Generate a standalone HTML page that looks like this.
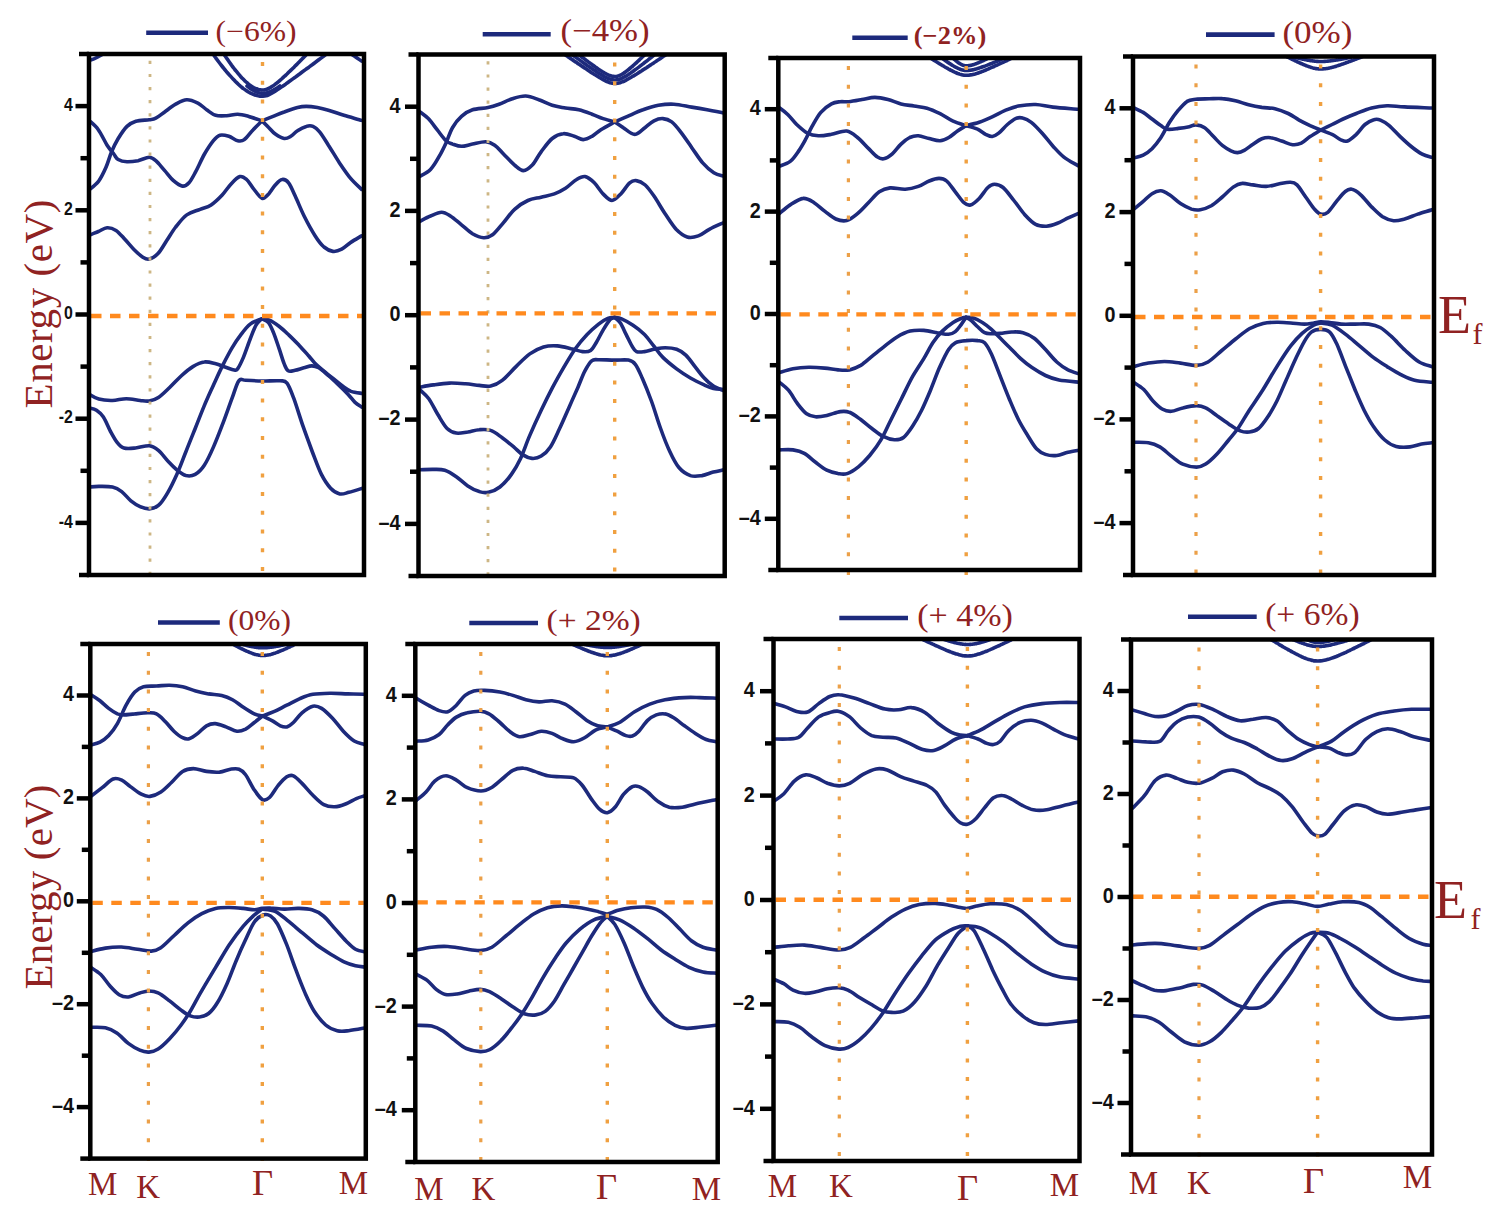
<!DOCTYPE html>
<html><head><meta charset="utf-8"><title>Band structures</title>
<style>
html,body{margin:0;padding:0;background:#fff;}
body{width:1500px;height:1220px;overflow:hidden;position:relative;}
svg{position:absolute;left:0;top:0;}
.tk{font-family:"Liberation Sans",sans-serif;font-weight:bold;font-size:18px;fill:#111;}
.lg{font-family:"Liberation Serif",serif;font-size:29px;fill:#902222;}
.sf{font-family:"Liberation Serif",serif;fill:#902222;}
</style></head><body>
<svg width="1500" height="1220" viewBox="0 0 1500 1220">
<defs>

<clipPath id="c1"><rect x="89.0" y="54.0" width="275.0" height="521.0"/></clipPath>
<clipPath id="c2"><rect x="418.5" y="54.5" width="306.2" height="521.5"/></clipPath>
<clipPath id="c3"><rect x="778.3" y="58.0" width="301.7" height="512.0"/></clipPath>
<clipPath id="c4"><rect x="1133.0" y="56.5" width="301.0" height="518.5"/></clipPath>
<clipPath id="c5"><rect x="90.3" y="644.0" width="275.5" height="514.6"/></clipPath>
<clipPath id="c6"><rect x="415.3" y="644.0" width="302.4" height="518.0"/></clipPath>
<clipPath id="c7"><rect x="773.5" y="639.0" width="306.0" height="522.0"/></clipPath>
<clipPath id="c8"><rect x="1131.0" y="639.5" width="301.0" height="515.0"/></clipPath>
</defs>
<g clip-path="url(#c1)" fill="none" stroke="#1d2a7c" stroke-width="3.6" stroke-linecap="round" stroke-linejoin="round">
<path d="M89.0,120.4 C90.5,121.9 95.3,125.5 98.3,129.7 C101.3,133.8 104.5,141.1 107.1,145.2 C109.7,149.2 111.9,151.6 113.8,154.0 C115.6,156.4 116.0,158.3 118.2,159.5 C120.4,160.8 123.7,161.6 127.0,161.8 C130.4,161.9 134.4,161.4 138.1,160.7 C141.8,159.9 146.2,157.3 149.2,157.3 C152.1,157.3 153.2,158.4 155.8,160.7 C158.4,162.9 161.7,167.3 164.7,170.6 C167.6,173.9 170.6,178.0 173.5,180.6 C176.5,183.2 179.8,185.7 182.4,186.1 C185.0,186.5 186.8,185.2 189.0,182.8 C191.2,180.4 193.1,176.5 195.7,171.7 C198.2,166.9 201.6,159.2 204.5,154.0 C207.5,148.9 210.8,143.9 213.4,140.7 C215.9,137.6 217.4,135.9 220.0,135.2 C222.6,134.5 225.9,135.4 228.9,136.3 C231.8,137.2 235.1,140.2 237.7,140.7 C240.3,141.3 241.8,141.5 244.3,139.6 C246.9,137.8 250.2,132.8 253.2,129.7 C256.1,126.5 260.6,122.3 262.0,120.8"/>
<path d="M89.0,189.9 C90.5,188.5 95.4,185.4 98.3,181.7 C101.1,177.9 103.8,172.3 106.0,167.3 C108.2,162.3 109.5,156.6 111.6,151.8 C113.6,147.0 115.6,142.8 118.2,138.5 C120.8,134.3 124.1,129.2 127.0,126.4 C130.0,123.5 132.2,122.4 135.9,121.3 C139.6,120.2 145.9,120.2 149.2,119.7 C152.5,119.2 153.2,119.5 155.8,118.2 C158.4,116.9 161.4,114.3 164.7,112.0 C168.0,109.6 172.0,106.2 175.7,104.2 C179.4,102.2 183.1,100.0 186.8,99.8 C190.5,99.6 194.5,101.5 197.9,103.1 C201.2,104.8 203.8,107.7 206.7,109.8 C209.7,111.8 212.3,114.3 215.6,115.3 C218.9,116.3 223.0,115.9 226.6,115.7 C230.3,115.5 234.0,114.1 237.7,114.2 C241.4,114.3 244.7,115.3 248.8,116.4 C252.8,117.5 259.8,120.1 262.0,120.8"/>
<path d="M262.0,120.8 C263.9,120.1 269.4,117.9 273.1,116.4 C276.8,114.9 280.1,113.4 284.2,112.0 C288.2,110.5 293.8,108.5 297.5,107.5 C301.1,106.6 303.0,106.4 306.3,106.4 C309.6,106.4 313.7,106.9 317.4,107.5 C321.1,108.2 324.0,108.9 328.4,110.2 C332.9,111.5 338.4,113.6 343.9,115.3 C349.5,117.0 358.7,119.5 361.6,120.4"/>
<path d="M262.0,120.8 C263.2,121.9 266.5,125.2 268.7,127.5 C270.9,129.7 272.7,132.3 275.3,134.1 C277.9,135.9 281.6,138.2 284.2,138.5 C286.8,138.9 288.6,137.6 290.8,136.3 C293.0,135.0 294.9,132.4 297.5,130.8 C300.0,129.1 303.7,127.1 306.3,126.4 C308.9,125.6 310.7,125.4 313.0,126.4 C315.2,127.3 317.0,128.8 319.6,131.9 C322.2,135.0 325.1,140.0 328.4,145.2 C331.8,150.3 335.8,157.3 339.5,162.9 C343.2,168.4 346.9,173.9 350.6,178.4 C354.3,182.8 359.8,187.6 361.6,189.4"/>
<path d="M89.0,235.5 C90.5,234.8 95.3,232.8 98.3,231.5 C101.3,230.2 104.2,227.9 107.1,227.7 C110.1,227.5 113.0,228.5 116.0,230.4 C118.9,232.3 121.9,236.1 124.8,239.2 C127.8,242.4 130.7,246.2 133.7,249.2 C136.6,252.1 140.0,255.3 142.5,256.9 C145.1,258.6 146.6,259.7 149.2,259.1 C151.8,258.6 155.1,256.7 158.0,253.6 C161.0,250.5 163.9,244.8 166.9,240.3 C169.8,235.9 172.4,231.3 175.7,227.0 C179.1,222.8 182.7,217.8 186.8,214.9 C190.9,211.9 196.0,211.0 200.1,209.3 C204.1,207.7 207.5,207.3 211.1,204.9 C214.8,202.5 218.9,198.5 222.2,195.0 C225.5,191.5 228.1,187.0 231.1,183.9 C234.0,180.8 237.3,177.3 239.9,176.6 C242.5,175.9 244.3,177.5 246.6,179.5 C248.8,181.4 250.6,185.2 253.2,188.3 C255.8,191.5 259.5,197.4 262.0,198.3 C264.6,199.2 266.5,196.1 268.7,193.9 C270.9,191.6 273.1,187.4 275.3,185.0 C277.5,182.6 279.8,179.8 282.0,179.5 C284.2,179.1 286.4,180.0 288.6,182.8 C290.8,185.6 292.7,190.5 295.2,196.1 C297.8,201.6 300.8,209.3 304.1,216.0 C307.4,222.6 311.8,230.7 315.2,235.9 C318.5,241.1 321.1,244.4 324.0,247.0 C327.0,249.5 329.9,251.0 332.9,251.4 C335.8,251.8 338.8,250.7 341.7,249.2 C344.7,247.7 347.3,244.8 350.6,242.5 C353.9,240.3 359.8,237.0 361.6,235.9"/>
<path d="M87.2,61.1 C88.3,60.7 91.6,59.8 93.9,58.9 C96.1,57.9 98.5,56.6 100.5,55.5 C102.5,54.4 105.1,52.8 106.0,52.2"/>
<path d="M348.4,52.2 C349.5,53.0 352.8,55.2 355.0,56.6 C357.2,58.1 360.5,60.3 361.6,61.1"/>
<path d="M89.1,394.1 C90.7,394.9 94.9,398.1 98.8,399.1 C102.7,400.2 108.0,400.6 112.5,400.5 C117.1,400.4 121.7,398.7 126.3,398.7 C130.9,398.7 136.3,400.1 140.1,400.5 C143.9,400.9 146.2,401.5 149.3,401.0 C152.3,400.5 155.0,399.8 158.4,397.5 C161.9,395.2 166.1,390.8 169.9,387.2 C173.7,383.6 177.6,379.2 181.4,375.7 C185.2,372.3 189.0,368.9 192.9,366.6 C196.7,364.3 200.5,362.4 204.3,362.0 C208.2,361.5 212.4,363.0 215.8,363.8 C219.3,364.6 221.9,366.0 225.0,367.0 C228.1,368.0 232.1,369.7 234.2,370.0 C236.3,370.3 236.1,371.0 237.6,368.9 C239.2,366.7 241.3,362.3 243.4,357.4 C245.5,352.4 248.1,344.4 250.2,339.0 C252.3,333.7 254.1,328.6 256.0,325.2 C257.9,321.9 260.8,319.9 261.7,318.8"/>
<path d="M89.1,487.0 C90.7,486.9 94.9,486.4 98.8,486.4 C102.7,486.4 108.7,486.2 112.5,487.0 C116.4,487.9 118.7,489.3 121.7,491.6 C124.8,493.9 127.8,498.3 130.9,500.8 C134.0,503.3 137.0,505.2 140.1,506.6 C143.1,507.9 146.2,509.0 149.3,508.9 C152.3,508.7 155.4,508.1 158.4,505.4 C161.5,502.7 164.6,498.0 167.6,492.8 C170.7,487.6 173.7,481.3 176.8,474.4 C179.9,467.5 182.9,459.1 186.0,451.5 C189.0,443.8 192.1,436.2 195.2,428.5 C198.2,420.9 201.3,412.8 204.3,405.6 C207.4,398.3 210.5,391.6 213.5,384.9 C216.6,378.2 219.6,371.5 222.7,365.4 C225.8,359.3 228.8,353.4 231.9,348.2 C234.9,343.0 238.0,338.4 241.1,334.4 C244.1,330.4 246.8,326.7 250.2,324.1 C253.7,321.5 259.8,319.7 261.7,318.8"/>
<path d="M89.1,407.9 C90.4,408.3 94.1,408.6 96.5,410.2 C98.8,411.7 101.1,413.6 103.4,417.0 C105.7,420.5 108.0,426.6 110.2,430.8 C112.5,435.0 114.8,439.4 117.1,442.3 C119.4,445.2 121.0,447.1 124.0,448.0 C127.1,449.0 131.3,448.4 135.5,448.0 C139.7,447.7 145.4,445.4 149.3,445.7 C153.1,446.1 155.4,447.8 158.4,450.3 C161.5,452.8 164.6,457.4 167.6,460.7 C170.7,463.9 173.7,467.3 176.8,469.8 C179.9,472.3 182.9,474.8 186.0,475.6 C189.0,476.3 192.1,476.1 195.2,474.4 C198.2,472.7 201.3,469.8 204.3,465.2 C207.4,460.7 210.5,453.8 213.5,446.9 C216.6,440.0 219.6,432.0 222.7,423.9 C225.8,415.9 229.2,405.9 231.9,398.7 C234.6,391.5 236.5,383.8 238.8,380.8 C241.1,377.7 241.8,380.3 245.7,380.3 C249.5,380.4 256.0,380.9 261.7,381.0 C267.5,381.1 275.9,380.4 280.1,380.8 C284.3,381.1 284.7,380.1 287.0,383.1 C289.3,386.1 291.2,391.5 293.9,398.7 C296.5,405.9 300.0,417.4 303.0,426.2 C306.1,435.0 309.2,443.4 312.2,451.5 C315.3,459.5 318.3,468.3 321.4,474.4 C324.5,480.5 327.5,484.9 330.6,488.2 C333.6,491.4 336.7,493.2 339.8,493.9 C342.8,494.6 345.1,493.3 348.9,492.3 C352.8,491.4 360.4,488.9 362.7,488.2"/>
<path d="M262.4,319.0 C263.6,319.2 266.7,318.9 269.5,320.2 C272.3,321.4 276.0,324.0 279.3,326.5 C282.6,329.0 285.9,332.3 289.2,335.4 C292.5,338.5 295.7,341.8 299.0,345.2 C302.3,348.6 306.2,353.1 308.8,356.0 C311.4,358.9 312.2,360.4 314.7,362.9 C317.2,365.4 320.5,368.2 323.6,370.8 C326.7,373.4 330.1,376.1 333.4,378.7 C336.7,381.3 340.2,384.4 343.2,386.5 C346.1,388.6 348.0,390.2 351.1,391.4 C354.2,392.5 360.2,393.1 362.0,393.4"/>
<path d="M262.4,319.0 C263.4,319.6 266.7,320.4 268.5,322.6 C270.3,324.8 271.6,328.0 273.4,332.4 C275.2,336.8 277.5,343.9 279.3,349.2 C281.1,354.4 282.7,360.3 284.2,363.9 C285.7,367.5 286.4,369.7 288.2,370.8 C290.0,371.9 292.5,370.8 295.1,370.3 C297.7,369.8 301.1,368.5 303.9,367.8 C306.7,367.1 309.3,365.9 311.8,365.9 C314.3,365.9 315.9,366.2 318.7,367.8 C321.5,369.4 325.2,372.9 328.5,375.7 C331.8,378.5 335.0,381.5 338.3,384.6 C341.6,387.7 345.4,391.4 348.2,394.4 C351.0,397.3 352.7,400.2 355.0,402.3 C357.3,404.4 360.8,406.4 362.0,407.2"/>
<path d="M196.9,30.7 C197.4,31.4 198.7,33.5 199.6,34.9 C200.5,36.2 201.5,37.6 202.4,38.9 C203.3,40.3 204.2,41.6 205.1,43.0 C206.0,44.3 206.9,45.6 207.9,46.9 C208.8,48.2 209.7,49.5 210.6,50.8 C211.5,52.1 212.4,53.4 213.3,54.6 C214.2,55.9 215.2,57.1 216.1,58.4 C217.0,59.6 217.9,60.8 218.8,62.0 C219.7,63.2 220.6,64.4 221.5,65.5 C222.5,66.7 223.4,67.8 224.3,69.0 C225.2,70.1 226.1,71.2 227.0,72.3 C227.9,73.3 228.8,74.4 229.8,75.4 C230.7,76.4 231.6,77.4 232.5,78.4 C233.4,79.4 234.3,80.3 235.2,81.3 C236.1,82.2 237.1,83.1 238.0,83.9 C238.9,84.8 239.8,85.6 240.7,86.4 C241.6,87.1 242.5,87.9 243.4,88.6 C244.4,89.3 245.3,89.9 246.2,90.5 C247.1,91.2 248.0,91.7 248.9,92.3 C249.8,92.8 250.7,93.3 251.7,93.7 C252.6,94.1 253.5,94.5 254.4,94.8 C255.3,95.1 256.2,95.4 257.1,95.6 C258.0,95.9 258.9,96.0 259.9,96.1 C260.8,96.2 261.6,96.4 262.6,96.3 C263.6,96.2 264.8,96.1 265.9,95.8 C267.0,95.5 268.1,95.0 269.2,94.5 C270.4,94.0 271.5,93.4 272.6,92.7 C273.7,92.1 274.8,91.4 275.9,90.7 C277.0,90.0 278.1,89.2 279.2,88.5 C280.3,87.7 281.4,87.0 282.6,86.2 C283.7,85.4 284.8,84.6 285.9,83.9 C287.0,83.1 288.1,82.3 289.2,81.5 C290.3,80.7 291.4,79.9 292.5,79.1 C293.6,78.3 294.7,77.5 295.9,76.7 C297.0,75.9 298.1,75.1 299.2,74.3 C300.3,73.4 301.4,72.6 302.5,71.8 C303.6,71.0 304.7,70.2 305.8,69.4 C306.9,68.6 308.0,67.7 309.2,66.9 C310.3,66.1 311.4,65.3 312.5,64.5 C313.6,63.6 314.7,62.8 315.8,62.0 C316.9,61.2 318.0,60.4 319.1,59.5 C320.2,58.7 321.3,57.9 322.4,57.1 C323.6,56.2 324.7,55.4 325.8,54.6 C326.9,53.8 328.0,53.0 329.1,52.1 C330.2,51.3 331.3,50.5 332.4,49.7 C333.5,48.8 334.6,48.0 335.8,47.2 C336.9,46.4 338.0,45.5 339.1,44.7 C340.2,43.9 341.8,42.6 342.4,42.2"/>
<path d="M209.3,31.2 C209.7,31.8 210.8,33.6 211.5,34.8 C212.3,36.0 213.0,37.2 213.8,38.4 C214.5,39.6 215.2,40.8 216.0,41.9 C216.7,43.1 217.5,44.3 218.2,45.4 C218.9,46.6 219.7,47.7 220.4,48.9 C221.2,50.0 221.9,51.2 222.6,52.3 C223.4,53.4 224.1,54.5 224.9,55.6 C225.6,56.7 226.3,57.8 227.1,58.8 C227.8,59.9 228.6,61.0 229.3,62.0 C230.0,63.0 230.8,64.1 231.5,65.1 C232.3,66.1 233.0,67.1 233.7,68.0 C234.5,69.0 235.2,70.0 236.0,70.9 C236.7,71.8 237.4,72.7 238.2,73.6 C238.9,74.5 239.7,75.3 240.4,76.2 C241.1,77.0 241.9,77.8 242.6,78.6 C243.4,79.4 244.1,80.1 244.8,80.8 C245.6,81.5 246.3,82.2 247.1,82.8 C247.8,83.5 248.5,84.1 249.3,84.7 C250.0,85.2 250.8,85.8 251.5,86.2 C252.2,86.7 253.0,87.2 253.7,87.6 C254.5,88.0 255.2,88.3 255.9,88.6 C256.7,88.9 257.4,89.2 258.2,89.4 C258.9,89.6 259.6,89.7 260.4,89.8 C261.1,89.9 261.8,90.0 262.6,90.0 C263.4,90.0 264.2,89.9 265.0,89.7 C265.9,89.6 266.7,89.3 267.5,89.0 C268.3,88.7 269.1,88.3 269.9,87.8 C270.7,87.4 271.5,86.9 272.4,86.3 C273.2,85.8 274.0,85.2 274.8,84.6 C275.6,84.0 276.4,83.3 277.2,82.7 C278.1,82.0 278.9,81.3 279.7,80.6 C280.5,79.9 281.3,79.2 282.1,78.5 C282.9,77.7 283.7,77.0 284.6,76.2 C285.4,75.5 286.2,74.7 287.0,74.0 C287.8,73.2 288.6,72.4 289.4,71.6 C290.3,70.8 291.1,70.1 291.9,69.3 C292.7,68.5 293.5,67.7 294.3,66.9 C295.1,66.1 295.9,65.2 296.8,64.4 C297.6,63.6 298.4,62.8 299.2,62.0 C300.0,61.2 300.8,60.4 301.6,59.5 C302.5,58.7 303.3,57.9 304.1,57.1 C304.9,56.3 305.7,55.4 306.5,54.6 C307.3,53.8 308.1,52.9 309.0,52.1 C309.8,51.3 310.6,50.4 311.4,49.6 C312.2,48.8 313.0,47.9 313.8,47.1 C314.7,46.3 315.5,45.4 316.3,44.6 C317.1,43.8 317.9,42.9 318.7,42.1 C319.5,41.2 320.8,40.0 321.2,39.6"/>
<path d="M247.0,86.0 C247.1,86.1 247.4,86.3 247.7,86.5 C247.9,86.7 248.1,86.9 248.3,87.0 C248.5,87.2 248.7,87.4 248.9,87.5 C249.2,87.7 249.4,87.8 249.6,88.0 C249.8,88.2 250.0,88.3 250.2,88.5 C250.5,88.6 250.7,88.8 250.9,88.9 C251.1,89.1 251.3,89.2 251.6,89.3 C251.8,89.5 252.0,89.6 252.2,89.7 C252.4,89.9 252.6,90.0 252.9,90.1 C253.1,90.3 253.3,90.4 253.5,90.5 C253.7,90.6 253.9,90.8 254.2,90.9 C254.4,91.0 254.6,91.1 254.8,91.2 C255.0,91.3 255.2,91.4 255.5,91.5 C255.7,91.6 255.9,91.7 256.1,91.8 C256.3,91.9 256.5,92.0 256.8,92.1 C257.0,92.1 257.2,92.2 257.4,92.3 C257.6,92.4 257.8,92.4 258.1,92.5 C258.3,92.6 258.5,92.6 258.7,92.7 C258.9,92.7 259.1,92.8 259.4,92.8 C259.6,92.9 259.8,92.9 260.0,93.0 C260.2,93.0 260.4,93.0 260.7,93.1 C260.9,93.1 261.1,93.1 261.3,93.1 C261.5,93.2 261.7,93.2 262.0,93.2 C262.2,93.2 262.4,93.2 262.6,93.2 C262.8,93.2 263.1,93.2 263.3,93.2 C263.6,93.2 263.8,93.2 264.1,93.1 C264.3,93.1 264.5,93.1 264.8,93.1 C265.0,93.0 265.3,93.0 265.5,93.0 C265.7,92.9 266.0,92.9 266.2,92.8 C266.5,92.8 266.7,92.7 267.0,92.7 C267.2,92.6 267.4,92.5 267.7,92.5 C267.9,92.4 268.2,92.3 268.4,92.3 C268.6,92.2 268.9,92.1 269.1,92.0 C269.4,91.9 269.6,91.9 269.9,91.8 C270.1,91.7 270.3,91.6 270.6,91.5 C270.8,91.4 271.1,91.3 271.3,91.2 C271.5,91.1 271.8,90.9 272.0,90.8 C272.3,90.7 272.5,90.6 272.8,90.5 C273.0,90.4 273.2,90.2 273.5,90.1 C273.7,90.0 274.0,89.8 274.2,89.7 C274.4,89.6 274.7,89.4 274.9,89.3 C275.2,89.2 275.4,89.0 275.6,88.9 C275.9,88.7 276.1,88.6 276.4,88.4 C276.6,88.3 276.9,88.1 277.1,88.0 C277.3,87.8 277.6,87.7 277.8,87.5 C278.1,87.3 278.3,87.2 278.6,87.0 C278.8,86.8 279.0,86.7 279.3,86.5 C279.5,86.3 279.9,86.1 280.0,86.0"/>
</g>
<line x1="150.0" y1="60.8" x2="150.0" y2="575.0" stroke="#cdb684" stroke-width="2.8" stroke-dasharray="3.2 9.9"/>
<line x1="262.5" y1="62.0" x2="262.5" y2="581.0" stroke="#f0a040" stroke-width="3.4" stroke-dasharray="4 14.7"/>
<line x1="91.0" y1="316.0" x2="362.0" y2="316.0" stroke="#ff8a1e" stroke-width="4.4" stroke-dasharray="10.5 8.5"/>
<rect x="89.0" y="54.0" width="275.0" height="521.0" fill="none" stroke="#000" stroke-width="4.5"/>
<line x1="79.0" y1="54.0" x2="89.0" y2="54.0" stroke="#000" stroke-width="4.5"/>
<line x1="79.0" y1="575.0" x2="89.0" y2="575.0" stroke="#000" stroke-width="4.5"/>
<line x1="75.5" y1="106.1" x2="89.0" y2="106.1" stroke="#000" stroke-width="4.5"/>
<text class="tk" transform="translate(72.8,110.7) scale(0.86,1)" text-anchor="end" style="font-size:18.5px">4</text>
<line x1="75.5" y1="210.3" x2="89.0" y2="210.3" stroke="#000" stroke-width="4.5"/>
<text class="tk" transform="translate(72.8,214.9) scale(0.86,1)" text-anchor="end" style="font-size:18.5px">2</text>
<line x1="75.5" y1="314.5" x2="89.0" y2="314.5" stroke="#000" stroke-width="4.5"/>
<text class="tk" transform="translate(72.8,319.1) scale(0.86,1)" text-anchor="end" style="font-size:18.5px">0</text>
<line x1="75.5" y1="418.7" x2="89.0" y2="418.7" stroke="#000" stroke-width="4.5"/>
<text class="tk" transform="translate(72.8,423.3) scale(0.86,1)" text-anchor="end" style="font-size:18.5px">-2</text>
<line x1="75.5" y1="522.9" x2="89.0" y2="522.9" stroke="#000" stroke-width="4.5"/>
<text class="tk" transform="translate(72.8,527.5) scale(0.86,1)" text-anchor="end" style="font-size:18.5px">-4</text>
<line x1="80.5" y1="158.2" x2="89.0" y2="158.2" stroke="#000" stroke-width="4.5"/>
<line x1="80.5" y1="262.4" x2="89.0" y2="262.4" stroke="#000" stroke-width="4.5"/>
<line x1="80.5" y1="366.6" x2="89.0" y2="366.6" stroke="#000" stroke-width="4.5"/>
<line x1="80.5" y1="470.8" x2="89.0" y2="470.8" stroke="#000" stroke-width="4.5"/>
<g clip-path="url(#c2)" fill="none" stroke="#1d2a7c" stroke-width="3.6" stroke-linecap="round" stroke-linejoin="round">
<path d="M419.4,111.5 C420.9,112.7 425.3,115.6 428.3,118.6 C431.2,121.6 434.2,126.0 437.1,129.7 C440.1,133.4 443.4,138.3 446.0,140.7 C448.6,143.1 450.0,143.1 452.6,144.1 C455.2,145.0 458.2,146.3 461.5,146.3 C464.8,146.3 468.5,144.8 472.5,144.1 C476.6,143.3 482.1,141.7 485.8,141.8 C489.5,142.0 491.7,143.1 494.7,145.2 C497.6,147.2 500.2,150.7 503.5,154.0 C506.8,157.3 511.3,162.3 514.6,165.1 C517.9,167.8 520.5,170.6 523.4,170.6 C526.4,170.6 529.3,168.2 532.3,165.1 C535.2,161.9 537.8,156.2 541.1,151.8 C544.5,147.4 548.5,141.5 552.2,138.5 C555.9,135.5 559.6,134.0 563.3,133.7 C567.0,133.3 571.0,135.3 574.3,136.3 C577.7,137.3 580.2,139.6 583.2,139.6 C586.1,139.6 589.1,138.0 592.0,136.3 C595.0,134.7 597.1,132.1 600.9,129.7 C604.7,127.3 612.5,123.2 614.8,121.9"/>
<path d="M419.4,176.6 C421.3,175.4 427.2,172.9 430.5,169.5 C433.8,166.1 436.8,160.7 439.3,156.2 C441.9,151.8 443.8,147.7 446.0,143.0 C448.2,138.2 450.0,131.9 452.6,127.5 C455.2,123.0 458.2,119.3 461.5,116.4 C464.8,113.4 468.1,111.2 472.5,109.8 C477.0,108.3 483.6,108.5 488.0,107.5 C492.5,106.6 495.0,105.7 499.1,104.2 C503.2,102.7 508.0,100.1 512.4,98.7 C516.8,97.3 521.2,95.8 525.7,96.0 C530.1,96.2 534.5,98.2 538.9,99.8 C543.4,101.3 547.8,104.0 552.2,105.3 C556.6,106.7 561.1,107.2 565.5,108.0 C569.9,108.7 574.3,108.7 578.8,109.8 C583.2,110.8 588.0,112.7 592.0,114.2 C596.1,115.7 599.3,117.3 603.1,118.6 C606.9,119.9 612.9,121.4 614.8,121.9"/>
<path d="M614.8,121.9 C616.9,121.0 622.8,118.4 627.5,116.4 C632.1,114.4 637.8,111.6 643.0,109.8 C648.1,107.9 653.3,106.2 658.4,105.3 C663.6,104.4 668.4,103.9 673.9,104.2 C679.5,104.5 686.1,106.2 691.6,107.1 C697.2,108.0 701.8,108.8 707.1,109.8 C712.5,110.8 721.0,112.5 723.7,113.1"/>
<path d="M614.8,121.9 C616.2,122.8 620.4,125.6 623.0,127.5 C625.7,129.3 628.6,131.9 630.8,133.0 C633.0,134.1 633.9,135.0 636.3,134.1 C638.7,133.2 642.2,129.7 645.2,127.5 C648.1,125.2 651.1,122.3 654.0,120.8 C657.0,119.3 659.9,118.4 662.9,118.6 C665.8,118.8 668.8,119.7 671.7,121.9 C674.7,124.1 677.3,127.6 680.6,131.9 C683.9,136.1 688.0,142.2 691.6,147.4 C695.3,152.5 699.0,158.6 702.7,162.9 C706.4,167.1 710.3,170.6 713.8,172.8 C717.3,175.0 722.1,175.6 723.7,176.1"/>
<path d="M419.4,221.5 C421.3,220.6 426.8,217.5 430.5,216.0 C434.2,214.4 438.2,212.2 441.6,212.2 C444.9,212.2 447.1,213.9 450.4,216.0 C453.7,218.1 457.8,221.9 461.5,224.8 C465.2,227.8 468.9,231.5 472.5,233.7 C476.2,235.8 480.3,237.5 483.6,237.7 C486.9,237.9 489.1,237.3 492.5,234.8 C495.8,232.3 499.8,226.9 503.5,222.6 C507.2,218.4 510.5,213.0 514.6,209.3 C518.6,205.7 523.4,202.5 527.9,200.5 C532.3,198.5 536.7,198.3 541.1,197.2 C545.6,196.1 550.4,195.3 554.4,193.9 C558.5,192.4 561.8,190.7 565.5,188.3 C569.2,185.9 573.2,181.4 576.6,179.5 C579.9,177.5 582.5,176.0 585.4,176.6 C588.4,177.1 591.3,179.9 594.3,182.8 C597.2,185.7 600.2,190.9 603.1,193.9 C606.1,196.8 609.0,200.5 612.0,200.5 C614.9,200.5 617.9,196.8 620.8,193.9 C623.8,190.9 627.1,185.0 629.7,182.8 C632.3,180.6 633.7,180.2 636.3,180.6 C638.9,180.9 642.2,182.4 645.2,185.0 C648.1,187.6 650.7,191.3 654.0,196.1 C657.3,200.9 661.4,208.2 665.1,213.8 C668.8,219.3 672.5,225.4 676.1,229.3 C679.8,233.1 683.5,235.9 687.2,237.0 C690.9,238.1 694.6,237.2 698.3,235.9 C702.0,234.6 705.1,231.5 709.3,229.3 C713.6,227.0 721.3,223.7 723.7,222.6"/>
<path d="M419.6,387.2 C421.9,386.8 428.4,385.6 433.4,384.9 C438.3,384.2 444.1,383.3 449.4,383.1 C454.8,382.9 460.5,383.4 465.5,383.8 C470.5,384.2 475.1,385.0 479.3,385.4 C483.5,385.8 486.9,386.9 490.7,386.1 C494.6,385.2 498.0,383.6 502.2,380.3 C506.4,377.1 511.4,371.0 516.0,366.6 C520.6,362.2 525.2,357.2 529.8,353.9 C534.3,350.7 538.9,348.4 543.5,347.0 C548.1,345.7 552.7,345.6 557.3,345.9 C561.9,346.2 566.9,347.7 571.1,348.7 C575.3,349.6 579.3,351.3 582.5,351.6 C585.8,351.9 588.3,352.0 590.6,350.5 C592.9,349.0 594.2,345.9 596.3,342.5 C598.4,339.0 600.9,333.7 603.2,329.8 C605.5,326.0 608.2,321.6 610.1,319.5 C612.0,317.4 613.9,317.8 614.7,317.4"/>
<path d="M419.6,469.8 C421.9,469.8 429.2,469.3 433.4,469.4 C437.6,469.5 441.0,469.1 444.8,470.3 C448.7,471.5 452.5,474.1 456.3,476.7 C460.1,479.3 464.0,483.4 467.8,485.9 C471.6,488.4 475.8,490.6 479.3,491.6 C482.7,492.7 485.0,493.1 488.4,492.3 C491.9,491.6 496.1,490.0 499.9,487.0 C503.7,484.1 508.0,479.2 511.4,474.4 C514.8,469.6 517.5,464.9 520.6,458.4 C523.6,451.9 526.3,443.4 529.8,435.4 C533.2,427.4 537.4,418.2 541.2,410.2 C545.1,402.1 548.9,394.5 552.7,387.2 C556.5,379.9 560.4,373.1 564.2,366.6 C568.0,360.1 571.8,353.6 575.7,348.2 C579.5,342.8 583.3,338.4 587.1,334.4 C591.0,330.4 595.2,326.8 598.6,324.1 C602.0,321.4 605.1,319.5 607.8,318.4 C610.5,317.3 613.5,317.6 614.7,317.4"/>
<path d="M419.6,389.5 C421.1,391.0 425.7,394.5 428.8,398.7 C431.8,402.9 434.9,409.8 438.0,414.8 C441.0,419.7 444.1,425.5 447.1,428.5 C450.2,431.6 452.9,432.5 456.3,433.1 C459.8,433.7 464.0,432.5 467.8,432.0 C471.6,431.4 475.4,429.9 479.3,429.7 C483.1,429.4 486.9,429.0 490.7,430.4 C494.6,431.7 498.4,435.0 502.2,437.7 C506.0,440.5 510.2,444.0 513.7,446.9 C517.1,449.8 519.8,453.0 522.9,454.9 C525.9,456.8 529.0,458.2 532.0,458.4 C535.1,458.6 538.2,458.0 541.2,456.1 C544.3,454.2 547.3,451.5 550.4,446.9 C553.5,442.3 556.5,435.0 559.6,428.5 C562.7,422.0 565.7,414.8 568.8,407.9 C571.8,401.0 575.3,393.3 578.0,387.2 C580.6,381.1 582.5,375.5 584.8,371.1 C587.1,366.7 589.4,362.7 591.7,360.8 C594.0,358.9 594.8,359.8 598.6,359.7 C602.4,359.6 609.7,360.1 614.7,360.1 C619.6,360.2 625.0,359.4 628.4,360.1 C631.9,360.8 633.0,361.3 635.3,364.3 C637.6,367.2 639.5,371.9 642.2,378.0 C644.9,384.2 648.3,392.6 651.4,401.0 C654.5,409.4 657.5,420.1 660.6,428.5 C663.6,436.9 666.7,445.0 669.8,451.5 C672.8,458.0 675.5,463.5 678.9,467.5 C682.4,471.6 686.6,474.2 690.4,475.6 C694.2,476.9 698.1,476.1 701.9,475.6 C705.7,475.0 709.7,473.1 713.4,472.1 C717.0,471.2 722.0,470.2 723.7,469.8"/>
<path d="M614.7,317.4 C615.8,317.7 618.5,317.5 621.6,318.8 C624.6,320.1 629.2,322.6 633.0,325.2 C636.9,327.8 641.1,331.0 644.5,334.4 C648.0,337.9 650.6,342.1 653.7,345.9 C656.7,349.7 659.0,353.6 662.9,357.4 C666.7,361.2 672.0,365.4 676.6,368.9 C681.2,372.3 685.8,375.4 690.4,378.0 C695.0,380.7 700.4,383.2 704.2,384.9 C708.0,386.6 710.1,387.6 713.4,388.4 C716.6,389.1 722.0,389.3 723.7,389.5"/>
<path d="M614.7,317.4 C615.6,318.4 618.5,320.1 620.4,323.0 C622.3,325.8 624.2,330.6 626.1,334.4 C628.1,338.3 630.2,343.0 631.9,345.9 C633.6,348.8 634.4,350.7 636.5,351.6 C638.6,352.6 641.6,352.0 644.5,351.6 C647.4,351.3 650.2,350.0 653.7,349.3 C657.1,348.7 661.3,347.7 665.2,347.7 C669.0,347.7 673.2,348.1 676.6,349.3 C680.1,350.6 682.8,352.2 685.8,355.1 C688.9,358.0 691.9,362.7 695.0,366.6 C698.1,370.4 701.1,374.8 704.2,378.0 C707.2,381.3 710.1,384.0 713.4,386.1 C716.6,388.2 722.0,389.9 723.7,390.7"/>
<path d="M555.0,47.7 C555.4,48.0 556.7,48.8 557.5,49.4 C558.3,50.0 559.2,50.6 560.0,51.2 C560.8,51.7 561.7,52.3 562.5,52.9 C563.3,53.5 564.2,54.0 565.0,54.6 C565.8,55.2 566.7,55.8 567.5,56.3 C568.3,56.9 569.2,57.5 570.0,58.1 C570.8,58.6 571.7,59.2 572.5,59.8 C573.3,60.4 574.2,60.9 575.0,61.5 C575.8,62.1 576.7,62.6 577.5,63.2 C578.3,63.8 579.2,64.3 580.0,64.9 C580.8,65.5 581.7,66.0 582.5,66.6 C583.3,67.1 584.2,67.7 585.0,68.3 C585.8,68.8 586.7,69.4 587.5,69.9 C588.3,70.5 589.2,71.0 590.0,71.6 C590.8,72.1 591.7,72.7 592.5,73.2 C593.3,73.7 594.2,74.3 595.0,74.8 C595.8,75.3 596.7,75.8 597.5,76.3 C598.3,76.9 599.2,77.4 600.0,77.8 C600.8,78.3 601.7,78.8 602.5,79.3 C603.3,79.7 604.2,80.2 605.0,80.6 C605.8,81.0 606.7,81.4 607.5,81.7 C608.3,82.1 609.2,82.4 610.0,82.7 C610.8,82.9 611.7,83.1 612.5,83.3 C613.3,83.4 614.2,83.5 615.0,83.5 C615.8,83.5 616.7,83.4 617.6,83.3 C618.4,83.1 619.3,82.9 620.1,82.7 C621.0,82.4 621.8,82.1 622.7,81.7 C623.5,81.4 624.4,81.0 625.2,80.6 C626.1,80.1 626.9,79.7 627.8,79.2 C628.6,78.8 629.5,78.3 630.3,77.8 C631.2,77.3 632.0,76.8 632.9,76.3 C633.7,75.8 634.6,75.3 635.4,74.7 C636.3,74.2 637.1,73.7 638.0,73.2 C638.8,72.6 639.7,72.1 640.5,71.5 C641.4,71.0 642.2,70.4 643.1,69.9 C643.9,69.3 644.8,68.8 645.6,68.2 C646.5,67.7 647.3,67.1 648.2,66.6 C649.0,66.0 649.9,65.4 650.7,64.9 C651.6,64.3 652.4,63.7 653.3,63.2 C654.1,62.6 655.0,62.0 655.8,61.5 C656.7,60.9 657.5,60.3 658.4,59.8 C659.2,59.2 660.1,58.6 660.9,58.1 C661.8,57.5 662.6,56.9 663.5,56.3 C664.3,55.8 665.2,55.2 666.0,54.6 C666.9,54.1 667.7,53.5 668.6,52.9 C669.4,52.3 670.3,51.8 671.1,51.2 C672.0,50.6 672.8,50.0 673.7,49.4 C674.5,48.9 675.8,48.0 676.2,47.7"/>
<path d="M563.8,48.5 C564.1,48.8 565.2,49.6 565.9,50.1 C566.6,50.6 567.3,51.1 568.0,51.7 C568.7,52.2 569.4,52.7 570.2,53.2 C570.9,53.7 571.6,54.2 572.3,54.8 C573.0,55.3 573.7,55.8 574.4,56.3 C575.1,56.8 575.9,57.3 576.6,57.9 C577.3,58.4 578.0,58.9 578.7,59.4 C579.4,59.9 580.1,60.4 580.8,60.9 C581.5,61.4 582.3,61.9 583.0,62.4 C583.7,63.0 584.4,63.5 585.1,64.0 C585.8,64.5 586.5,65.0 587.2,65.5 C588.0,66.0 588.7,66.5 589.4,67.0 C590.1,67.4 590.8,67.9 591.5,68.4 C592.2,68.9 592.9,69.4 593.6,69.9 C594.4,70.4 595.1,70.8 595.8,71.3 C596.5,71.8 597.2,72.2 597.9,72.7 C598.6,73.2 599.3,73.6 600.1,74.0 C600.8,74.5 601.5,74.9 602.2,75.3 C602.9,75.8 603.6,76.2 604.3,76.6 C605.0,76.9 605.7,77.3 606.5,77.7 C607.2,78.0 607.9,78.3 608.6,78.6 C609.3,78.9 610.0,79.1 610.7,79.3 C611.4,79.6 612.2,79.7 612.9,79.8 C613.6,79.9 614.3,80.0 615.0,80.0 C615.7,80.0 616.3,79.9 617.0,79.8 C617.6,79.7 618.3,79.6 619.0,79.4 C619.6,79.2 620.3,78.9 620.9,78.7 C621.6,78.4 622.3,78.1 622.9,77.7 C623.6,77.4 624.2,77.0 624.9,76.7 C625.6,76.3 626.2,75.9 626.9,75.5 C627.5,75.1 628.2,74.6 628.9,74.2 C629.5,73.8 630.2,73.3 630.8,72.9 C631.5,72.4 632.2,71.9 632.8,71.5 C633.5,71.0 634.1,70.5 634.8,70.0 C635.5,69.5 636.1,69.1 636.8,68.6 C637.4,68.1 638.1,67.6 638.8,67.1 C639.4,66.6 640.1,66.1 640.7,65.6 C641.4,65.1 642.0,64.6 642.7,64.1 C643.4,63.6 644.0,63.0 644.7,62.5 C645.3,62.0 646.0,61.5 646.7,61.0 C647.3,60.5 648.0,60.0 648.6,59.4 C649.3,58.9 650.0,58.4 650.6,57.9 C651.3,57.4 651.9,56.8 652.6,56.3 C653.3,55.8 653.9,55.3 654.6,54.7 C655.2,54.2 655.9,53.7 656.6,53.2 C657.2,52.6 657.9,52.1 658.5,51.6 C659.2,51.1 659.9,50.5 660.5,50.0 C661.2,49.5 662.2,48.7 662.5,48.4"/>
<path d="M571.9,49.4 C572.2,49.6 573.1,50.3 573.7,50.8 C574.3,51.2 574.9,51.7 575.5,52.2 C576.1,52.6 576.7,53.1 577.3,53.5 C577.9,54.0 578.5,54.5 579.1,54.9 C579.7,55.4 580.3,55.8 580.9,56.3 C581.5,56.7 582.1,57.2 582.7,57.6 C583.3,58.1 583.9,58.5 584.5,59.0 C585.1,59.4 585.7,59.9 586.2,60.3 C586.8,60.8 587.4,61.2 588.0,61.7 C588.6,62.1 589.2,62.6 589.8,63.0 C590.4,63.4 591.0,63.9 591.6,64.3 C592.2,64.7 592.8,65.2 593.4,65.6 C594.0,66.0 594.6,66.5 595.2,66.9 C595.8,67.3 596.4,67.7 597.0,68.1 C597.6,68.6 598.2,69.0 598.8,69.4 C599.4,69.8 600.0,70.2 600.6,70.6 C601.2,70.9 601.8,71.3 602.4,71.7 C603.0,72.1 603.6,72.4 604.2,72.8 C604.8,73.1 605.4,73.5 606.0,73.8 C606.6,74.1 607.2,74.4 607.8,74.7 C608.4,74.9 609.0,75.2 609.6,75.4 C610.2,75.6 610.8,75.8 611.4,76.0 C612.0,76.2 612.6,76.3 613.2,76.4 C613.8,76.5 614.5,76.5 615.0,76.5 C615.5,76.5 616.0,76.5 616.5,76.4 C617.0,76.3 617.5,76.2 618.0,76.1 C618.5,75.9 619.0,75.7 619.5,75.5 C619.9,75.3 620.4,75.1 620.9,74.8 C621.4,74.6 621.9,74.3 622.4,74.0 C622.9,73.7 623.4,73.4 623.9,73.1 C624.4,72.7 624.9,72.4 625.4,72.0 C625.9,71.7 626.4,71.3 626.9,70.9 C627.4,70.5 627.9,70.1 628.4,69.7 C628.9,69.3 629.3,68.9 629.8,68.5 C630.3,68.1 630.8,67.6 631.3,67.2 C631.8,66.8 632.3,66.4 632.8,65.9 C633.3,65.5 633.8,65.0 634.3,64.6 C634.8,64.1 635.3,63.7 635.8,63.2 C636.3,62.8 636.8,62.3 637.3,61.9 C637.8,61.4 638.3,61.0 638.8,60.5 C639.2,60.0 639.7,59.6 640.2,59.1 C640.7,58.6 641.2,58.2 641.7,57.7 C642.2,57.2 642.7,56.8 643.2,56.3 C643.7,55.8 644.2,55.3 644.7,54.9 C645.2,54.4 645.7,53.9 646.2,53.4 C646.7,53.0 647.2,52.5 647.7,52.0 C648.2,51.5 648.6,51.0 649.1,50.5 C649.6,50.1 650.4,49.3 650.6,49.1"/>
</g>
<line x1="488.0" y1="61.3" x2="488.0" y2="576.0" stroke="#cdb684" stroke-width="2.8" stroke-dasharray="3.2 9.9"/>
<line x1="614.7" y1="62.5" x2="614.7" y2="582.0" stroke="#f0a040" stroke-width="3.4" stroke-dasharray="4 14.7"/>
<line x1="420.5" y1="313.4" x2="722.7" y2="313.4" stroke="#ff8a1e" stroke-width="4.4" stroke-dasharray="10.5 8.5"/>
<rect x="418.5" y="54.5" width="306.2" height="521.5" fill="none" stroke="#000" stroke-width="4.5"/>
<line x1="408.5" y1="54.5" x2="418.5" y2="54.5" stroke="#000" stroke-width="4.5"/>
<line x1="408.5" y1="576.0" x2="418.5" y2="576.0" stroke="#000" stroke-width="4.5"/>
<line x1="405.0" y1="106.7" x2="418.5" y2="106.7" stroke="#000" stroke-width="4.5"/>
<text class="tk" transform="translate(400.4,112.5) scale(0.90,1)" text-anchor="end" style="font-size:22.0px">4</text>
<line x1="405.0" y1="210.9" x2="418.5" y2="210.9" stroke="#000" stroke-width="4.5"/>
<text class="tk" transform="translate(400.4,216.8) scale(0.90,1)" text-anchor="end" style="font-size:22.0px">2</text>
<line x1="405.0" y1="315.2" x2="418.5" y2="315.2" stroke="#000" stroke-width="4.5"/>
<text class="tk" transform="translate(400.4,321.1) scale(0.90,1)" text-anchor="end" style="font-size:22.0px">0</text>
<line x1="405.0" y1="419.6" x2="418.5" y2="419.6" stroke="#000" stroke-width="4.5"/>
<text class="tk" transform="translate(400.4,425.4) scale(0.90,1)" text-anchor="end" style="font-size:22.0px">&#8211;2</text>
<line x1="405.0" y1="523.9" x2="418.5" y2="523.9" stroke="#000" stroke-width="4.5"/>
<text class="tk" transform="translate(400.4,529.7) scale(0.90,1)" text-anchor="end" style="font-size:22.0px">&#8211;4</text>
<line x1="410.0" y1="158.8" x2="418.5" y2="158.8" stroke="#000" stroke-width="4.5"/>
<line x1="410.0" y1="263.1" x2="418.5" y2="263.1" stroke="#000" stroke-width="4.5"/>
<line x1="410.0" y1="367.4" x2="418.5" y2="367.4" stroke="#000" stroke-width="4.5"/>
<line x1="410.0" y1="471.7" x2="418.5" y2="471.7" stroke="#000" stroke-width="4.5"/>
<g clip-path="url(#c3)" fill="none" stroke="#1d2a7c" stroke-width="3.6" stroke-linecap="round" stroke-linejoin="round">
<path d="M779.3,107.8 C780.8,108.9 785.1,111.9 788.0,114.7 C790.9,117.5 793.5,121.4 796.7,124.5 C800.0,127.6 804.0,131.3 807.6,133.2 C811.2,135.1 814.5,135.6 818.4,135.8 C822.4,136.0 826.8,135.1 831.5,134.3 C836.2,133.5 842.3,130.5 846.7,131.0 C851.0,131.6 853.9,134.6 857.5,137.5 C861.2,140.4 865.1,145.2 868.4,148.4 C871.7,151.6 874.6,154.9 877.1,156.7 C879.6,158.4 881.1,159.3 883.6,158.8 C886.1,158.4 889.4,156.3 892.3,153.8 C895.2,151.4 898.1,146.8 901.0,144.1 C903.9,141.3 906.8,138.9 909.7,137.5 C912.6,136.2 915.1,135.6 918.4,135.8 C921.6,136.0 925.6,137.8 929.2,138.6 C932.8,139.5 936.8,141.0 940.1,140.8 C943.3,140.6 945.9,139.2 948.8,137.5 C951.7,135.9 954.6,133.0 957.5,131.0 C960.4,129.0 964.7,126.5 966.1,125.6"/>
<path d="M779.3,166.2 C781.2,165.4 786.9,164.0 790.2,161.4 C793.5,158.8 796.4,154.2 798.9,150.6 C801.4,147.0 803.2,143.7 805.4,139.7 C807.6,135.7 809.4,131.2 811.9,126.7 C814.5,122.2 817.4,116.4 820.6,112.6 C823.9,108.8 828.2,105.7 831.5,103.9 C834.7,102.1 837.3,102.1 840.2,101.7 C843.1,101.3 845.2,102.1 848.9,101.7 C852.5,101.3 857.5,100.3 861.9,99.5 C866.2,98.8 870.6,97.4 874.9,97.4 C879.3,97.4 883.6,98.4 888.0,99.5 C892.3,100.6 896.6,102.8 901.0,103.9 C905.3,105.0 909.7,105.3 914.0,106.0 C918.4,106.8 922.7,107.0 927.0,108.2 C931.4,109.5 935.7,111.5 940.1,113.6 C944.4,115.8 948.8,119.3 953.1,121.2 C957.5,123.2 964.0,124.9 966.1,125.6"/>
<path d="M966.1,125.6 C968.3,125.1 974.8,123.8 979.2,122.3 C983.5,120.9 987.9,118.9 992.2,116.9 C996.6,114.9 1000.9,112.2 1005.2,110.4 C1009.6,108.6 1013.2,107.0 1018.3,106.0 C1023.3,105.1 1029.9,104.3 1035.7,104.5 C1041.4,104.7 1046.0,106.3 1053.0,107.1 C1060.1,107.9 1073.8,108.9 1078.0,109.3"/>
<path d="M966.1,125.6 C968.0,126.1 973.8,127.4 977.0,128.9 C980.3,130.3 983.2,133.0 985.7,134.3 C988.2,135.5 990.0,136.6 992.2,136.5 C994.4,136.3 996.2,135.2 998.7,133.2 C1001.3,131.2 1004.5,127.0 1007.4,124.5 C1010.3,122.0 1013.6,119.5 1016.1,118.4 C1018.6,117.3 1020.1,117.3 1022.6,118.0 C1025.2,118.6 1028.1,119.8 1031.3,122.3 C1034.6,124.9 1038.6,129.2 1042.2,133.2 C1045.8,137.2 1049.4,142.2 1053.0,146.2 C1056.7,150.2 1059.7,153.8 1063.9,157.1 C1068.1,160.3 1075.7,164.3 1078.0,165.8"/>
<path d="M779.3,213.6 C781.2,212.1 786.2,207.4 790.2,204.9 C794.2,202.3 799.3,198.7 803.2,198.4 C807.2,198.0 810.5,200.5 814.1,202.7 C817.7,204.9 821.3,208.7 825.0,211.4 C828.6,214.1 832.2,217.5 835.8,219.0 C839.4,220.5 843.1,221.4 846.7,220.5 C850.3,219.6 853.9,216.5 857.5,213.6 C861.2,210.6 864.8,206.3 868.4,202.7 C872.0,199.1 875.6,194.3 879.3,191.8 C882.9,189.4 885.8,188.4 890.1,187.9 C894.5,187.5 900.6,189.5 905.3,189.2 C910.0,189.0 914.4,187.8 918.4,186.4 C922.3,185.0 925.8,182.3 929.2,181.0 C932.7,179.6 936.1,178.4 939.0,178.4 C941.9,178.4 943.9,178.7 946.6,181.0 C949.3,183.2 952.4,188.2 955.3,191.8 C958.2,195.5 961.4,200.5 964.0,202.7 C966.5,204.9 968.0,205.6 970.5,204.9 C973.0,204.2 976.3,201.3 979.2,198.4 C982.1,195.5 985.3,189.9 987.9,187.5 C990.4,185.1 991.9,184.2 994.4,184.2 C996.9,184.2 999.8,184.8 1003.1,187.5 C1006.3,190.2 1010.3,196.0 1013.9,200.5 C1017.6,205.1 1021.2,210.7 1024.8,214.7 C1028.4,218.6 1032.0,222.5 1035.7,224.4 C1039.3,226.3 1042.9,226.3 1046.5,226.2 C1050.1,226.0 1053.8,224.7 1057.4,223.3 C1061.0,222.0 1064.8,219.5 1068.2,217.9 C1071.7,216.3 1076.4,214.3 1078.0,213.6"/>
<path d="M779.5,372.6 C781.8,371.9 788.1,369.7 793.0,368.8 C797.9,367.8 803.6,367.3 808.8,367.2 C814.1,367.1 819.7,367.6 824.6,368.1 C829.5,368.5 834.0,369.6 838.1,369.9 C842.2,370.2 845.6,370.6 849.4,369.9 C853.1,369.1 856.9,367.6 860.7,365.4 C864.4,363.1 868.2,359.4 871.9,356.4 C875.7,353.3 879.1,350.5 883.2,347.3 C887.3,344.1 892.2,339.9 896.7,337.2 C901.2,334.5 905.7,332.2 910.2,331.1 C914.8,330.0 919.3,330.2 923.8,330.4 C928.3,330.7 933.2,332.0 937.3,332.7 C941.4,333.3 945.6,334.5 948.6,334.3 C951.6,334.1 953.3,333.1 955.3,331.6 C957.4,330.0 959.2,327.2 961.0,324.8 C962.8,322.4 965.3,318.6 966.1,317.4"/>
<path d="M779.5,449.9 C781.8,449.9 788.9,449.3 793.0,449.9 C797.2,450.5 800.5,451.2 804.3,453.3 C808.1,455.3 811.8,459.5 815.6,462.3 C819.3,465.1 823.1,468.3 826.8,470.2 C830.6,472.1 834.7,473.0 838.1,473.6 C841.5,474.1 843.8,474.7 847.1,473.6 C850.5,472.4 854.6,469.8 858.4,466.8 C862.2,463.8 865.9,460.0 869.7,455.5 C873.4,451.0 877.6,445.4 880.9,439.8 C884.3,434.1 886.6,428.5 890.0,421.7 C893.3,415.0 897.5,406.7 901.2,399.2 C905.0,391.7 908.7,383.4 912.5,376.6 C916.3,369.9 920.4,364.2 923.8,358.6 C927.2,353.0 929.8,347.3 932.8,342.8 C935.8,338.3 938.4,334.9 941.8,331.6 C945.2,328.2 949.7,324.8 953.1,322.5 C956.5,320.3 959.9,318.9 962.1,318.0 C964.3,317.2 965.5,317.5 966.1,317.4"/>
<path d="M779.5,382.3 C781.0,383.6 785.5,386.6 788.5,390.2 C791.5,393.7 794.5,399.7 797.5,403.7 C800.5,407.6 803.6,411.7 806.6,413.8 C809.6,416.0 812.2,416.5 815.6,416.8 C819.0,417.0 822.7,416.3 826.8,415.4 C831.0,414.5 836.6,412.1 840.4,411.6 C844.1,411.1 846.0,410.9 849.4,412.3 C852.8,413.6 856.9,416.8 860.7,419.5 C864.4,422.2 868.2,425.7 871.9,428.5 C875.7,431.3 879.4,434.5 883.2,436.4 C887.0,438.3 891.1,439.6 894.5,439.8 C897.8,439.9 900.5,439.8 903.5,437.5 C906.5,435.2 909.5,430.7 912.5,426.2 C915.5,421.7 918.5,416.5 921.5,410.5 C924.5,404.4 927.5,397.3 930.5,390.2 C933.5,383.0 936.5,374.4 939.5,367.6 C942.6,360.9 945.9,353.7 948.6,349.6 C951.2,345.5 952.4,344.3 955.3,342.8 C958.3,341.3 962.4,340.9 966.1,340.6 C969.9,340.2 974.8,340.2 977.9,340.6 C980.9,340.9 982.4,340.6 984.6,342.8 C986.9,345.1 988.8,348.5 991.4,354.1 C994.0,359.7 997.4,369.1 1000.4,376.6 C1003.4,384.2 1006.4,392.0 1009.4,399.2 C1012.4,406.3 1015.4,413.5 1018.4,419.5 C1021.4,425.5 1024.5,430.4 1027.5,435.2 C1030.5,440.1 1033.5,445.6 1036.5,448.8 C1039.5,452.0 1042.1,453.3 1045.5,454.4 C1048.9,455.5 1053.0,455.9 1056.8,455.5 C1060.5,455.2 1064.1,453.1 1068.0,452.2 C1072.0,451.2 1078.4,450.3 1080.4,449.9"/>
<path d="M966.1,317.4 C967.3,317.5 970.7,317.2 973.4,318.0 C976.1,318.9 979.4,320.7 982.4,322.5 C985.4,324.4 988.4,326.7 991.4,329.3 C994.4,331.9 997.4,335.3 1000.4,338.3 C1003.4,341.3 1006.0,344.0 1009.4,347.3 C1012.8,350.7 1016.9,355.2 1020.7,358.6 C1024.5,362.0 1027.8,364.8 1032.0,367.6 C1036.1,370.4 1041.0,373.4 1045.5,375.5 C1050.0,377.6 1053.2,378.9 1059.0,380.0 C1064.8,381.1 1076.9,381.9 1080.4,382.3"/>
<path d="M966.1,317.4 C967.0,317.8 969.2,318.7 971.1,320.3 C973.1,321.9 975.6,325.0 977.9,327.0 C980.1,329.1 982.4,331.6 984.6,332.7 C986.9,333.8 988.8,333.7 991.4,333.8 C994.0,333.9 997.0,333.7 1000.4,333.4 C1003.8,333.1 1007.9,332.1 1011.7,332.0 C1015.4,331.9 1019.2,331.6 1023.0,332.7 C1026.7,333.7 1030.5,335.5 1034.2,338.3 C1038.0,341.1 1041.7,345.6 1045.5,349.6 C1049.2,353.5 1053.0,358.6 1056.8,362.0 C1060.5,365.4 1064.1,367.8 1068.0,369.9 C1072.0,371.9 1078.4,373.6 1080.4,374.4"/>
<path d="M925.3,54.8 C925.6,55.0 926.4,55.5 927.0,55.9 C927.6,56.3 928.1,56.6 928.7,57.0 C929.3,57.3 929.8,57.7 930.4,58.1 C931.0,58.4 931.6,58.8 932.1,59.1 C932.7,59.5 933.3,59.9 933.8,60.2 C934.4,60.6 935.0,60.9 935.6,61.3 C936.1,61.6 936.7,62.0 937.3,62.3 C937.8,62.7 938.4,63.0 939.0,63.4 C939.6,63.7 940.1,64.1 940.7,64.4 C941.3,64.8 941.8,65.1 942.4,65.4 C943.0,65.8 943.6,66.1 944.1,66.5 C944.7,66.8 945.3,67.1 945.8,67.5 C946.4,67.8 947.0,68.1 947.6,68.4 C948.1,68.7 948.7,69.1 949.3,69.4 C949.8,69.7 950.4,70.0 951.0,70.3 C951.5,70.6 952.1,70.9 952.7,71.2 C953.3,71.5 953.8,71.7 954.4,72.0 C955.0,72.3 955.5,72.5 956.1,72.8 C956.7,73.0 957.3,73.3 957.8,73.5 C958.4,73.7 959.0,73.9 959.5,74.1 C960.1,74.3 960.7,74.5 961.3,74.6 C961.8,74.7 962.4,74.9 963.0,75.0 C963.5,75.1 964.1,75.2 964.7,75.2 C965.3,75.3 965.8,75.3 966.4,75.3 C967.0,75.3 967.8,75.3 968.6,75.2 C969.3,75.1 970.0,75.0 970.7,74.9 C971.5,74.8 972.2,74.7 972.9,74.5 C973.6,74.3 974.3,74.1 975.1,73.9 C975.8,73.7 976.5,73.5 977.2,73.3 C978.0,73.0 978.7,72.8 979.4,72.5 C980.1,72.3 980.8,72.0 981.6,71.7 C982.3,71.4 983.0,71.1 983.7,70.9 C984.5,70.6 985.2,70.3 985.9,70.0 C986.6,69.7 987.3,69.4 988.1,69.1 C988.8,68.7 989.5,68.4 990.2,68.1 C991.0,67.8 991.7,67.5 992.4,67.2 C993.1,66.8 993.8,66.5 994.6,66.2 C995.3,65.9 996.0,65.5 996.7,65.2 C997.5,64.9 998.2,64.6 998.9,64.2 C999.6,63.9 1000.3,63.6 1001.1,63.2 C1001.8,62.9 1002.5,62.6 1003.2,62.2 C1004.0,61.9 1004.7,61.6 1005.4,61.2 C1006.1,60.9 1006.8,60.5 1007.6,60.2 C1008.3,59.9 1009.0,59.5 1009.7,59.2 C1010.5,58.8 1011.2,58.5 1011.9,58.2 C1012.6,57.8 1013.3,57.5 1014.1,57.1 C1014.8,56.8 1015.5,56.5 1016.2,56.1 C1017.0,55.8 1018.0,55.2 1018.4,55.1"/>
<path d="M939.0,56.0 C939.2,56.2 939.8,56.6 940.2,56.9 C940.5,57.1 940.9,57.4 941.3,57.7 C941.7,58.0 942.1,58.3 942.4,58.5 C942.8,58.8 943.2,59.1 943.6,59.3 C944.0,59.6 944.3,59.9 944.7,60.2 C945.1,60.4 945.5,60.7 945.9,61.0 C946.2,61.2 946.6,61.5 947.0,61.8 C947.4,62.0 947.8,62.3 948.1,62.5 C948.5,62.8 948.9,63.0 949.3,63.3 C949.7,63.5 950.1,63.8 950.4,64.0 C950.8,64.3 951.2,64.5 951.6,64.8 C952.0,65.0 952.3,65.2 952.7,65.5 C953.1,65.7 953.5,65.9 953.9,66.2 C954.2,66.4 954.6,66.6 955.0,66.8 C955.4,67.0 955.8,67.2 956.1,67.4 C956.5,67.6 956.9,67.8 957.3,68.0 C957.7,68.2 958.0,68.4 958.4,68.5 C958.8,68.7 959.2,68.9 959.6,69.0 C959.9,69.2 960.3,69.3 960.7,69.5 C961.1,69.6 961.5,69.7 961.8,69.8 C962.2,69.9 962.6,70.0 963.0,70.1 C963.4,70.2 963.7,70.3 964.1,70.3 C964.5,70.4 964.9,70.4 965.3,70.5 C965.6,70.5 965.9,70.5 966.4,70.5 C966.9,70.5 967.6,70.5 968.1,70.4 C968.7,70.4 969.3,70.4 969.9,70.3 C970.5,70.2 971.1,70.1 971.6,70.0 C972.2,69.9 972.8,69.8 973.4,69.7 C974.0,69.5 974.6,69.4 975.1,69.2 C975.7,69.1 976.3,68.9 976.9,68.8 C977.5,68.6 978.1,68.4 978.6,68.2 C979.2,68.0 979.8,67.8 980.4,67.6 C981.0,67.4 981.6,67.2 982.1,67.0 C982.7,66.8 983.3,66.6 983.9,66.4 C984.5,66.2 985.1,66.0 985.6,65.8 C986.2,65.5 986.8,65.3 987.4,65.1 C988.0,64.9 988.6,64.6 989.1,64.4 C989.7,64.2 990.3,64.0 990.9,63.7 C991.5,63.5 992.1,63.3 992.6,63.0 C993.2,62.8 993.8,62.6 994.4,62.3 C995.0,62.1 995.6,61.8 996.1,61.6 C996.7,61.4 997.3,61.1 997.9,60.9 C998.5,60.6 999.1,60.4 999.6,60.1 C1000.2,59.9 1000.8,59.7 1001.4,59.4 C1002.0,59.2 1002.6,58.9 1003.1,58.7 C1003.7,58.4 1004.3,58.2 1004.9,57.9 C1005.5,57.7 1006.1,57.4 1006.6,57.2 C1007.2,56.9 1008.1,56.6 1008.4,56.5"/>
<path d="M952.1,57.5 C952.2,57.6 952.5,57.8 952.7,58.0 C952.9,58.2 953.1,58.4 953.3,58.6 C953.5,58.7 953.7,58.9 953.9,59.1 C954.1,59.3 954.3,59.4 954.5,59.6 C954.7,59.8 954.9,59.9 955.1,60.1 C955.3,60.3 955.5,60.4 955.7,60.6 C955.9,60.8 956.1,60.9 956.3,61.1 C956.5,61.2 956.7,61.4 956.9,61.5 C957.1,61.7 957.3,61.8 957.5,62.0 C957.7,62.1 957.9,62.3 958.1,62.4 C958.3,62.6 958.5,62.7 958.7,62.8 C958.9,63.0 959.1,63.1 959.3,63.2 C959.5,63.4 959.7,63.5 959.9,63.6 C960.1,63.7 960.3,63.9 960.5,64.0 C960.7,64.1 960.9,64.2 961.1,64.3 C961.3,64.4 961.5,64.5 961.6,64.6 C961.8,64.7 962.0,64.8 962.2,64.9 C962.4,65.0 962.6,65.0 962.8,65.1 C963.0,65.2 963.2,65.3 963.4,65.3 C963.6,65.4 963.8,65.4 964.0,65.5 C964.2,65.5 964.4,65.6 964.6,65.6 C964.8,65.7 965.0,65.7 965.2,65.7 C965.4,65.7 965.6,65.8 965.8,65.8 C966.0,65.8 966.1,65.8 966.4,65.8 C966.7,65.8 967.0,65.8 967.3,65.8 C967.7,65.8 968.0,65.7 968.3,65.7 C968.6,65.7 968.9,65.6 969.2,65.6 C969.5,65.5 969.9,65.5 970.2,65.4 C970.5,65.4 970.8,65.3 971.1,65.2 C971.4,65.2 971.7,65.1 972.1,65.0 C972.4,64.9 972.7,64.8 973.0,64.7 C973.3,64.6 973.6,64.5 973.9,64.4 C974.3,64.3 974.6,64.2 974.9,64.1 C975.2,64.0 975.5,63.9 975.8,63.8 C976.1,63.7 976.5,63.5 976.8,63.4 C977.1,63.3 977.4,63.2 977.7,63.0 C978.0,62.9 978.3,62.8 978.7,62.6 C979.0,62.5 979.3,62.4 979.6,62.2 C979.9,62.1 980.2,62.0 980.5,61.8 C980.9,61.7 981.2,61.5 981.5,61.4 C981.8,61.3 982.1,61.1 982.4,61.0 C982.7,60.8 983.1,60.7 983.4,60.5 C983.7,60.4 984.0,60.2 984.3,60.1 C984.6,59.9 984.9,59.8 985.3,59.6 C985.6,59.5 985.9,59.3 986.2,59.2 C986.5,59.0 986.8,58.9 987.1,58.7 C987.5,58.6 987.8,58.4 988.1,58.3 C988.4,58.1 988.9,57.9 989.0,57.8"/>
</g>
<line x1="848.4" y1="66.0" x2="848.4" y2="576.0" stroke="#eca048" stroke-width="3.2" stroke-dasharray="4 14.7"/>
<line x1="966.2" y1="66.0" x2="966.2" y2="576.0" stroke="#f0a040" stroke-width="3.4" stroke-dasharray="4 14.7"/>
<line x1="780.3" y1="314.4" x2="1078.0" y2="314.4" stroke="#ff8a1e" stroke-width="4.4" stroke-dasharray="10.5 8.5"/>
<rect x="778.3" y="58.0" width="301.7" height="512.0" fill="none" stroke="#000" stroke-width="4.5"/>
<line x1="768.3" y1="58.0" x2="778.3" y2="58.0" stroke="#000" stroke-width="4.5"/>
<line x1="768.3" y1="570.0" x2="778.3" y2="570.0" stroke="#000" stroke-width="4.5"/>
<line x1="764.8" y1="109.2" x2="778.3" y2="109.2" stroke="#000" stroke-width="4.5"/>
<text class="tk" transform="translate(760.8,115.1) scale(0.90,1)" text-anchor="end" style="font-size:22.0px">4</text>
<line x1="764.8" y1="211.6" x2="778.3" y2="211.6" stroke="#000" stroke-width="4.5"/>
<text class="tk" transform="translate(760.8,217.5) scale(0.90,1)" text-anchor="end" style="font-size:22.0px">2</text>
<line x1="764.8" y1="314.0" x2="778.3" y2="314.0" stroke="#000" stroke-width="4.5"/>
<text class="tk" transform="translate(760.8,319.9) scale(0.90,1)" text-anchor="end" style="font-size:22.0px">0</text>
<line x1="764.8" y1="416.4" x2="778.3" y2="416.4" stroke="#000" stroke-width="4.5"/>
<text class="tk" transform="translate(760.8,422.3) scale(0.90,1)" text-anchor="end" style="font-size:22.0px">&#8211;2</text>
<line x1="764.8" y1="518.8" x2="778.3" y2="518.8" stroke="#000" stroke-width="4.5"/>
<text class="tk" transform="translate(760.8,524.7) scale(0.90,1)" text-anchor="end" style="font-size:22.0px">&#8211;4</text>
<line x1="769.8" y1="160.4" x2="778.3" y2="160.4" stroke="#000" stroke-width="4.5"/>
<line x1="769.8" y1="262.8" x2="778.3" y2="262.8" stroke="#000" stroke-width="4.5"/>
<line x1="769.8" y1="365.2" x2="778.3" y2="365.2" stroke="#000" stroke-width="4.5"/>
<line x1="769.8" y1="467.6" x2="778.3" y2="467.6" stroke="#000" stroke-width="4.5"/>
<g clip-path="url(#c4)" fill="none" stroke="#1d2a7c" stroke-width="3.6" stroke-linecap="round" stroke-linejoin="round">
<path d="M1133.3,107.6 C1134.9,108.4 1140.1,110.5 1143.2,112.4 C1146.3,114.3 1149.0,116.8 1152.0,119.0 C1154.9,121.2 1158.2,123.9 1160.8,125.6 C1163.3,127.3 1164.4,128.8 1167.3,129.3 C1170.3,129.8 1174.7,128.9 1178.3,128.4 C1182.0,128.0 1186.4,127.3 1189.3,126.7 C1192.2,126.1 1193.3,124.7 1195.9,124.9 C1198.5,125.1 1201.8,125.8 1204.7,127.8 C1207.6,129.7 1210.5,133.6 1213.5,136.6 C1216.4,139.5 1219.3,143.0 1222.3,145.4 C1225.2,147.7 1228.5,149.6 1231.0,150.9 C1233.6,152.1 1235.4,152.7 1237.6,152.6 C1239.8,152.5 1241.7,151.8 1244.2,150.4 C1246.8,149.0 1250.1,146.2 1253.0,144.3 C1255.9,142.3 1258.9,139.9 1261.8,138.8 C1264.7,137.7 1267.3,137.3 1270.6,137.7 C1273.9,138.0 1277.9,139.8 1281.6,141.0 C1285.2,142.1 1289.3,144.3 1292.6,144.7 C1295.9,145.1 1298.4,144.5 1301.3,143.2 C1304.3,141.8 1306.9,138.8 1310.1,136.6 C1313.4,134.4 1318.9,131.1 1320.7,130.0"/>
<path d="M1133.3,157.9 C1134.9,157.4 1140.1,156.8 1143.2,155.2 C1146.3,153.7 1149.0,151.6 1152.0,148.7 C1154.9,145.7 1157.8,142.1 1160.8,137.7 C1163.7,133.3 1166.6,126.9 1169.5,122.3 C1172.5,117.7 1175.4,113.7 1178.3,110.2 C1181.3,106.7 1184.2,103.3 1187.1,101.4 C1190.0,99.6 1192.2,99.7 1195.9,99.2 C1199.6,98.8 1204.7,98.9 1209.1,98.8 C1213.5,98.7 1217.9,98.2 1222.3,98.6 C1226.7,98.9 1231.0,99.7 1235.4,100.8 C1239.8,101.8 1244.2,103.6 1248.6,104.7 C1253.0,105.8 1257.4,106.7 1261.8,107.4 C1266.2,108.0 1270.6,107.7 1275.0,108.7 C1279.4,109.7 1284.1,111.6 1288.2,113.5 C1292.2,115.4 1295.5,118.1 1299.1,120.1 C1302.8,122.1 1306.5,123.9 1310.1,125.6 C1313.7,127.2 1318.9,129.3 1320.7,130.0"/>
<path d="M1320.7,130.0 C1322.6,129.1 1328.4,126.3 1332.1,124.5 C1335.8,122.7 1339.1,120.8 1343.1,119.0 C1347.1,117.2 1351.5,115.3 1356.3,113.5 C1361.0,111.7 1366.5,109.3 1371.6,108.0 C1376.8,106.7 1381.5,106.0 1387.0,105.8 C1392.5,105.6 1397.1,106.6 1404.6,106.9 C1412.1,107.3 1427.5,107.8 1432.0,108.0"/>
<path d="M1320.7,130.0 C1322.6,130.7 1328.7,132.7 1332.1,134.4 C1335.5,136.0 1338.3,138.8 1340.9,139.9 C1343.4,141.0 1344.9,141.9 1347.5,141.0 C1350.0,140.1 1353.3,137.1 1356.3,134.4 C1359.2,131.6 1362.1,126.9 1365.0,124.5 C1368.0,122.0 1371.3,120.4 1373.8,119.7 C1376.4,118.9 1377.9,119.1 1380.4,120.1 C1383.0,121.1 1385.9,122.8 1389.2,125.6 C1392.5,128.3 1396.5,133.1 1400.2,136.6 C1403.9,140.1 1407.5,143.5 1411.2,146.5 C1414.8,149.4 1418.7,152.3 1422.2,154.1 C1425.6,156.0 1430.4,156.9 1432.0,157.4"/>
<path d="M1133.3,209.7 C1134.9,208.3 1140.1,204.0 1143.2,201.4 C1146.3,198.7 1149.0,195.4 1152.0,193.7 C1154.9,191.9 1157.8,190.6 1160.8,190.8 C1163.7,191.0 1166.2,192.7 1169.5,194.8 C1172.8,196.9 1176.9,201.2 1180.5,203.6 C1184.2,206.0 1188.2,208.0 1191.5,209.1 C1194.8,210.1 1197.0,210.3 1200.3,209.7 C1203.6,209.2 1207.6,207.9 1211.3,205.8 C1214.9,203.6 1218.6,200.1 1222.3,197.0 C1225.9,193.9 1230.0,189.4 1233.2,187.1 C1236.5,184.8 1238.7,183.7 1242.0,183.4 C1245.3,183.0 1249.0,184.4 1253.0,184.9 C1257.0,185.4 1261.8,186.6 1266.2,186.4 C1270.6,186.3 1275.3,184.5 1279.4,183.8 C1283.4,183.1 1287.4,182.1 1290.4,182.3 C1293.3,182.4 1294.4,182.4 1297.0,184.9 C1299.5,187.4 1302.8,193.0 1305.7,197.0 C1308.7,201.0 1312.0,206.2 1314.5,209.1 C1317.0,211.9 1318.5,213.6 1320.7,214.1 C1322.9,214.7 1325.1,214.5 1327.7,212.4 C1330.3,210.2 1333.6,204.9 1336.5,201.4 C1339.4,197.9 1342.7,193.5 1345.3,191.5 C1347.8,189.5 1349.3,188.7 1351.9,189.3 C1354.4,189.8 1357.4,191.9 1360.7,194.8 C1364.0,197.7 1368.0,203.2 1371.6,206.9 C1375.3,210.5 1379.0,214.4 1382.6,216.8 C1386.3,219.1 1389.9,220.3 1393.6,220.7 C1397.3,221.1 1400.6,220.0 1404.6,219.0 C1408.6,217.9 1413.2,215.7 1417.8,214.1 C1422.3,212.6 1429.7,210.5 1432.0,209.7"/>
<path d="M1133.4,366.6 C1135.9,366.0 1143.2,364.0 1148.4,363.1 C1153.5,362.3 1159.1,361.5 1164.4,361.5 C1169.8,361.5 1175.1,362.5 1180.5,363.1 C1185.8,363.8 1192.0,365.6 1196.6,365.4 C1201.1,365.2 1203.8,364.5 1208.0,362.0 C1212.2,359.5 1217.2,354.3 1221.8,350.5 C1226.4,346.7 1231.0,342.7 1235.6,339.0 C1240.2,335.4 1244.8,331.3 1249.3,328.7 C1253.9,326.1 1258.5,324.5 1263.1,323.4 C1267.7,322.3 1272.3,322.3 1276.9,322.3 C1281.5,322.2 1286.1,322.6 1290.7,323.0 C1295.2,323.3 1300.6,324.1 1304.4,324.1 C1308.3,324.1 1310.9,323.3 1313.6,323.0 C1316.3,322.6 1317.8,321.9 1320.5,321.8 C1323.2,321.7 1326.2,322.1 1329.7,322.5 C1333.1,322.9 1336.9,323.8 1341.1,324.1 C1345.4,324.4 1350.3,324.1 1354.9,324.1 C1359.5,324.1 1364.5,323.5 1368.7,324.1 C1372.9,324.7 1376.3,325.4 1380.2,327.5 C1384.0,329.6 1387.4,332.9 1391.6,336.7 C1395.8,340.5 1400.8,346.3 1405.4,350.5 C1410.0,354.7 1414.8,359.3 1419.2,362.0 C1423.6,364.6 1429.7,365.8 1431.8,366.6"/>
<path d="M1133.4,442.3 C1135.9,442.4 1144.0,442.0 1148.4,442.8 C1152.8,443.5 1156.0,444.7 1159.8,446.9 C1163.7,449.1 1167.5,453.2 1171.3,456.1 C1175.1,458.9 1178.6,462.3 1182.8,464.1 C1187.0,465.9 1192.7,467.1 1196.6,467.1 C1200.4,467.1 1202.3,466.3 1205.7,464.1 C1209.2,461.9 1213.4,457.8 1217.2,453.8 C1221.0,449.8 1225.2,444.2 1228.7,440.0 C1232.1,435.8 1234.4,433.5 1237.9,428.5 C1241.3,423.6 1245.1,416.7 1249.3,410.2 C1253.6,403.7 1258.5,396.8 1263.1,389.5 C1267.7,382.2 1272.3,373.8 1276.9,366.6 C1281.5,359.3 1286.4,351.4 1290.7,345.9 C1294.9,340.4 1298.3,336.7 1302.1,333.3 C1306.0,329.8 1310.5,327.0 1313.6,325.2 C1316.7,323.5 1319.3,323.3 1320.5,323.0"/>
<path d="M1133.4,382.2 C1135.2,383.4 1140.5,386.4 1143.8,389.5 C1147.0,392.6 1149.9,397.7 1153.0,401.0 C1156.0,404.2 1159.1,407.3 1162.1,409.0 C1165.2,410.7 1167.9,411.5 1171.3,411.3 C1174.8,411.1 1178.6,408.8 1182.8,407.9 C1187.0,406.9 1192.7,405.6 1196.6,405.6 C1200.4,405.6 1202.3,406.1 1205.7,407.9 C1209.2,409.6 1213.4,413.2 1217.2,415.9 C1221.0,418.6 1224.9,421.4 1228.7,423.9 C1232.5,426.4 1236.7,429.5 1240.2,430.8 C1243.6,432.2 1246.3,432.3 1249.3,432.0 C1252.4,431.6 1255.5,431.0 1258.5,428.5 C1261.6,426.0 1264.6,421.6 1267.7,417.0 C1270.8,412.5 1273.8,407.1 1276.9,401.0 C1279.9,394.9 1283.0,387.2 1286.1,380.3 C1289.1,373.4 1292.2,366.2 1295.2,359.7 C1298.3,353.2 1301.7,345.9 1304.4,341.3 C1307.1,336.7 1308.6,334.1 1311.3,332.1 C1314.0,330.1 1317.4,329.4 1320.5,329.4 C1323.6,329.4 1327.0,329.8 1329.7,332.1 C1332.3,334.5 1333.9,337.9 1336.6,343.6 C1339.2,349.3 1342.7,358.9 1345.7,366.6 C1348.8,374.2 1351.9,382.2 1354.9,389.5 C1358.0,396.8 1361.0,404.0 1364.1,410.2 C1367.2,416.3 1369.8,421.3 1373.3,426.2 C1376.7,431.2 1380.9,436.6 1384.8,440.0 C1388.6,443.4 1392.0,445.3 1396.2,446.4 C1400.4,447.6 1405.8,447.3 1410.0,446.9 C1414.2,446.5 1417.8,444.8 1421.5,444.1 C1425.1,443.4 1430.1,443.0 1431.8,442.8"/>
<path d="M1320.5,323.0 C1322.4,323.3 1327.8,323.3 1332.0,325.2 C1336.2,327.2 1341.1,331.0 1345.7,334.4 C1350.3,337.9 1354.9,342.1 1359.5,345.9 C1364.1,349.7 1368.7,353.9 1373.3,357.4 C1377.9,360.8 1382.5,363.7 1387.0,366.6 C1391.6,369.4 1396.2,372.3 1400.8,374.6 C1405.4,376.9 1409.4,379.1 1414.6,380.3 C1419.8,381.6 1428.9,381.9 1431.8,382.2"/>
<path d="M1282.9,54.7 C1283.2,54.8 1284.0,55.2 1284.5,55.5 C1285.0,55.8 1285.6,56.0 1286.1,56.3 C1286.6,56.6 1287.1,56.8 1287.7,57.1 C1288.2,57.4 1288.7,57.6 1289.2,57.9 C1289.8,58.1 1290.3,58.4 1290.8,58.7 C1291.3,58.9 1291.9,59.2 1292.4,59.4 C1292.9,59.7 1293.4,59.9 1294.0,60.2 C1294.5,60.4 1295.0,60.7 1295.5,60.9 C1296.1,61.2 1296.6,61.4 1297.1,61.7 C1297.7,61.9 1298.2,62.2 1298.7,62.4 C1299.2,62.7 1299.8,62.9 1300.3,63.1 C1300.8,63.4 1301.3,63.6 1301.9,63.8 C1302.4,64.1 1302.9,64.3 1303.4,64.5 C1304.0,64.7 1304.5,64.9 1305.0,65.2 C1305.5,65.4 1306.1,65.6 1306.6,65.8 C1307.1,66.0 1307.6,66.2 1308.2,66.4 C1308.7,66.6 1309.2,66.7 1309.8,66.9 C1310.3,67.1 1310.8,67.3 1311.3,67.4 C1311.9,67.6 1312.4,67.7 1312.9,67.9 C1313.4,68.0 1314.0,68.1 1314.5,68.3 C1315.0,68.4 1315.5,68.5 1316.1,68.6 C1316.6,68.7 1317.1,68.7 1317.6,68.8 C1318.2,68.9 1318.7,68.9 1319.2,69.0 C1319.7,69.0 1320.2,69.0 1320.8,69.0 C1321.4,69.0 1322.1,69.0 1322.7,68.9 C1323.3,68.9 1324.0,68.9 1324.6,68.8 C1325.3,68.7 1325.9,68.6 1326.5,68.5 C1327.2,68.4 1327.8,68.3 1328.4,68.2 C1329.1,68.1 1329.7,67.9 1330.4,67.8 C1331.0,67.6 1331.6,67.5 1332.3,67.3 C1332.9,67.1 1333.5,67.0 1334.2,66.8 C1334.8,66.6 1335.5,66.4 1336.1,66.2 C1336.7,66.0 1337.4,65.8 1338.0,65.6 C1338.6,65.4 1339.3,65.2 1339.9,65.0 C1340.6,64.8 1341.2,64.5 1341.8,64.3 C1342.5,64.1 1343.1,63.9 1343.7,63.7 C1344.4,63.4 1345.0,63.2 1345.6,63.0 C1346.3,62.7 1346.9,62.5 1347.6,62.3 C1348.2,62.0 1348.8,61.8 1349.5,61.6 C1350.1,61.3 1350.7,61.1 1351.4,60.8 C1352.0,60.6 1352.7,60.4 1353.3,60.1 C1353.9,59.9 1354.6,59.6 1355.2,59.4 C1355.8,59.1 1356.5,58.9 1357.1,58.6 C1357.8,58.4 1358.4,58.2 1359.0,57.9 C1359.7,57.7 1360.3,57.4 1360.9,57.2 C1361.6,56.9 1362.2,56.7 1362.9,56.4 C1363.5,56.2 1364.1,55.9 1364.8,55.7 C1365.4,55.4 1366.4,55.0 1366.7,54.9"/>
<path d="M1294.8,57.3 C1295.0,57.3 1295.5,57.5 1295.9,57.5 C1296.2,57.6 1296.6,57.7 1297.0,57.8 C1297.3,57.9 1297.7,58.0 1298.0,58.1 C1298.4,58.1 1298.8,58.2 1299.1,58.3 C1299.5,58.4 1299.9,58.5 1300.2,58.5 C1300.6,58.6 1300.9,58.7 1301.3,58.8 C1301.7,58.9 1302.0,58.9 1302.4,59.0 C1302.7,59.1 1303.1,59.2 1303.5,59.3 C1303.8,59.3 1304.2,59.4 1304.5,59.5 C1304.9,59.6 1305.3,59.6 1305.6,59.7 C1306.0,59.8 1306.4,59.8 1306.7,59.9 C1307.1,60.0 1307.4,60.1 1307.8,60.1 C1308.2,60.2 1308.5,60.2 1308.9,60.3 C1309.2,60.4 1309.6,60.4 1310.0,60.5 C1310.3,60.6 1310.7,60.6 1311.0,60.7 C1311.4,60.7 1311.8,60.8 1312.1,60.8 C1312.5,60.9 1312.9,60.9 1313.2,61.0 C1313.6,61.0 1313.9,61.1 1314.3,61.1 C1314.7,61.2 1315.0,61.2 1315.4,61.2 C1315.7,61.3 1316.1,61.3 1316.5,61.3 C1316.8,61.4 1317.2,61.4 1317.5,61.4 C1317.9,61.4 1318.3,61.4 1318.6,61.5 C1319.0,61.5 1319.4,61.5 1319.7,61.5 C1320.1,61.5 1320.4,61.5 1320.8,61.5 C1321.2,61.5 1321.6,61.5 1322.1,61.5 C1322.5,61.5 1322.9,61.5 1323.3,61.5 C1323.7,61.4 1324.2,61.4 1324.6,61.4 C1325.0,61.4 1325.4,61.3 1325.8,61.3 C1326.3,61.3 1326.7,61.2 1327.1,61.2 C1327.5,61.2 1327.9,61.1 1328.4,61.1 C1328.8,61.0 1329.2,61.0 1329.6,61.0 C1330.0,60.9 1330.5,60.9 1330.9,60.8 C1331.3,60.7 1331.7,60.7 1332.1,60.6 C1332.6,60.6 1333.0,60.5 1333.4,60.5 C1333.8,60.4 1334.2,60.3 1334.7,60.3 C1335.1,60.2 1335.5,60.1 1335.9,60.1 C1336.3,60.0 1336.8,59.9 1337.2,59.9 C1337.6,59.8 1338.0,59.7 1338.4,59.7 C1338.9,59.6 1339.3,59.5 1339.7,59.5 C1340.1,59.4 1340.5,59.3 1341.0,59.2 C1341.4,59.2 1341.8,59.1 1342.2,59.0 C1342.6,58.9 1343.1,58.9 1343.5,58.8 C1343.9,58.7 1344.3,58.6 1344.7,58.5 C1345.2,58.5 1345.6,58.4 1346.0,58.3 C1346.4,58.2 1346.8,58.2 1347.3,58.1 C1347.7,58.0 1348.1,57.9 1348.5,57.8 C1348.9,57.8 1349.4,57.7 1349.8,57.6 C1350.2,57.5 1350.8,57.4 1351.0,57.3"/>
</g>
<line x1="1196.0" y1="64.5" x2="1196.0" y2="581.0" stroke="#eca048" stroke-width="3.2" stroke-dasharray="4 14.7"/>
<line x1="1320.6" y1="64.5" x2="1320.6" y2="581.0" stroke="#f0a040" stroke-width="3.4" stroke-dasharray="4 14.7"/>
<line x1="1135.0" y1="317.0" x2="1432.0" y2="317.0" stroke="#ff8a1e" stroke-width="4.4" stroke-dasharray="10.5 8.5"/>
<rect x="1133.0" y="56.5" width="301.0" height="518.5" fill="none" stroke="#000" stroke-width="4.5"/>
<line x1="1123.0" y1="56.5" x2="1133.0" y2="56.5" stroke="#000" stroke-width="4.5"/>
<line x1="1123.0" y1="575.0" x2="1133.0" y2="575.0" stroke="#000" stroke-width="4.5"/>
<line x1="1119.5" y1="108.3" x2="1133.0" y2="108.3" stroke="#000" stroke-width="4.5"/>
<text class="tk" transform="translate(1115.6,114.2) scale(0.90,1)" text-anchor="end" style="font-size:22.0px">4</text>
<line x1="1119.5" y1="212.1" x2="1133.0" y2="212.1" stroke="#000" stroke-width="4.5"/>
<text class="tk" transform="translate(1115.6,217.9) scale(0.90,1)" text-anchor="end" style="font-size:22.0px">2</text>
<line x1="1119.5" y1="315.8" x2="1133.0" y2="315.8" stroke="#000" stroke-width="4.5"/>
<text class="tk" transform="translate(1115.6,321.6) scale(0.90,1)" text-anchor="end" style="font-size:22.0px">0</text>
<line x1="1119.5" y1="419.4" x2="1133.0" y2="419.4" stroke="#000" stroke-width="4.5"/>
<text class="tk" transform="translate(1115.6,425.3) scale(0.90,1)" text-anchor="end" style="font-size:22.0px">&#8211;2</text>
<line x1="1119.5" y1="523.1" x2="1133.0" y2="523.1" stroke="#000" stroke-width="4.5"/>
<text class="tk" transform="translate(1115.6,529.0) scale(0.90,1)" text-anchor="end" style="font-size:22.0px">&#8211;4</text>
<line x1="1124.5" y1="160.2" x2="1133.0" y2="160.2" stroke="#000" stroke-width="4.5"/>
<line x1="1124.5" y1="263.9" x2="1133.0" y2="263.9" stroke="#000" stroke-width="4.5"/>
<line x1="1124.5" y1="367.6" x2="1133.0" y2="367.6" stroke="#000" stroke-width="4.5"/>
<line x1="1124.5" y1="471.3" x2="1133.0" y2="471.3" stroke="#000" stroke-width="4.5"/>
<g clip-path="url(#c5)" fill="none" stroke="#1d2a7c" stroke-width="3.6" stroke-linecap="round" stroke-linejoin="round">
<path d="M91.3,695.0 C92.8,695.9 97.1,698.6 100.0,700.8 C102.9,703.1 105.8,706.2 108.7,708.4 C111.6,710.6 114.9,712.8 117.4,713.9 C119.9,714.9 121.0,714.9 123.9,714.9 C126.8,714.9 130.8,714.2 134.8,713.9 C138.8,713.5 144.2,712.8 147.8,712.8 C151.4,712.8 153.6,712.4 156.5,713.9 C159.4,715.3 162.3,718.6 165.2,721.5 C168.1,724.4 171.0,728.5 173.9,731.2 C176.8,733.9 180.0,736.5 182.6,737.7 C185.1,739.0 186.6,739.6 189.1,738.8 C191.6,738.1 194.9,735.6 197.8,733.4 C200.7,731.2 203.6,727.4 206.5,725.8 C209.4,724.2 211.9,723.4 215.2,723.6 C218.4,723.8 222.4,725.6 226.0,726.9 C229.6,728.2 233.6,730.9 236.9,731.2 C240.1,731.6 242.7,730.5 245.6,729.1 C248.5,727.6 251.4,724.7 254.3,722.5 C257.1,720.4 261.1,717.1 262.5,716.0"/>
<path d="M91.3,744.7 C92.8,744.3 97.1,743.6 100.0,742.1 C102.9,740.6 105.8,738.7 108.7,735.6 C111.6,732.5 114.5,728.7 117.4,723.6 C120.3,718.6 123.2,710.4 126.1,705.2 C129.0,699.9 131.9,695.2 134.8,692.1 C137.7,689.1 139.9,687.7 143.5,686.7 C147.1,685.7 152.2,686.3 156.5,686.0 C160.9,685.8 165.2,685.1 169.5,685.2 C173.9,685.3 178.2,685.7 182.6,686.7 C186.9,687.7 191.3,689.9 195.6,691.0 C200.0,692.2 204.3,693.1 208.6,693.9 C213.0,694.6 217.7,694.4 221.7,695.4 C225.7,696.4 228.9,697.7 232.5,699.7 C236.2,701.7 239.8,705.0 243.4,707.3 C247.0,709.7 251.1,712.4 254.3,713.9 C257.4,715.3 261.1,715.7 262.5,716.0"/>
<path d="M262.5,716.0 C264.4,715.3 269.7,713.5 273.8,711.7 C277.9,709.9 282.5,707.3 286.8,705.2 C291.2,703.0 295.5,700.5 299.9,698.6 C304.2,696.8 307.8,695.2 312.9,694.3 C318.0,693.4 324.5,693.3 330.3,693.2 C336.1,693.1 342.0,693.7 347.7,693.9 C353.3,694.0 361.2,694.2 363.9,694.3"/>
<path d="M262.5,716.0 C264.0,716.7 268.7,718.7 271.6,720.4 C274.6,722.0 277.8,724.7 280.3,725.8 C282.9,726.9 284.7,727.4 286.8,726.9 C289.0,726.3 290.8,724.9 293.4,722.5 C295.9,720.2 298.8,715.5 302.0,712.8 C305.3,710.1 309.6,707.0 312.9,706.2 C316.2,705.5 318.3,706.4 321.6,708.4 C324.8,710.4 328.8,714.4 332.5,718.2 C336.1,722.0 339.7,727.4 343.3,731.2 C346.9,735.0 350.7,738.8 354.2,741.0 C357.6,743.2 362.3,743.7 363.9,744.3"/>
<path d="M91.3,796.0 C93.2,794.6 98.6,790.5 102.2,787.7 C105.8,784.9 109.8,780.3 113.1,779.0 C116.3,777.7 118.9,778.8 121.8,780.1 C124.7,781.4 127.2,784.3 130.4,786.6 C133.7,789.0 138.0,792.6 141.3,794.2 C144.6,795.9 146.7,796.8 150.0,796.4 C153.2,796.0 157.2,794.4 160.9,792.0 C164.5,789.7 168.1,785.7 171.7,782.3 C175.3,778.8 179.0,773.7 182.6,771.4 C186.2,769.1 189.5,768.6 193.4,768.6 C197.4,768.6 202.1,770.8 206.5,771.4 C210.8,772.0 215.5,772.4 219.5,772.1 C223.5,771.7 227.1,769.7 230.4,769.2 C233.6,768.8 236.5,768.3 239.0,769.2 C241.6,770.1 243.0,771.2 245.6,774.7 C248.1,778.1 251.4,785.7 254.3,789.9 C257.1,794.0 260.0,798.4 262.5,799.7 C265.0,800.9 266.9,799.8 269.5,797.5 C272.1,795.1 275.3,789.0 278.1,785.5 C281.0,782.1 284.3,778.5 286.8,776.8 C289.4,775.2 290.8,774.7 293.4,775.8 C295.9,776.8 298.8,780.1 302.0,783.4 C305.3,786.6 309.3,791.8 312.9,795.3 C316.5,798.9 320.1,802.7 323.8,804.6 C327.4,806.6 331.0,806.9 334.6,806.8 C338.2,806.7 341.9,805.4 345.5,804.0 C349.1,802.6 353.3,799.9 356.3,798.6 C359.4,797.2 362.7,796.4 363.9,796.0"/>
<path d="M90.4,951.6 C92.9,951.0 100.2,948.9 105.4,948.1 C110.5,947.3 116.1,946.8 121.4,947.0 C126.8,947.2 132.5,948.6 137.5,949.3 C142.5,950.0 147.4,951.3 151.3,951.1 C155.1,950.9 156.6,950.7 160.4,948.1 C164.3,945.5 169.6,939.7 174.2,935.5 C178.8,931.3 183.4,926.5 188.0,922.9 C192.6,919.2 197.2,916.1 201.8,913.7 C206.3,911.3 210.9,909.4 215.5,908.4 C220.1,907.4 224.7,907.5 229.3,907.5 C233.9,907.5 238.9,908.0 243.1,908.4 C247.3,908.8 251.4,909.8 254.5,909.8 C257.7,909.8 259.4,908.7 262.1,908.4 C264.8,908.1 266.9,907.8 270.6,908.0 C274.3,908.1 279.8,909.0 284.4,909.1 C289.0,909.2 293.6,908.3 298.1,908.4 C302.7,908.5 307.7,908.5 311.9,909.8 C316.1,911.0 319.6,912.8 323.4,916.0 C327.2,919.1 331.0,924.4 334.9,928.6 C338.7,932.8 342.9,937.8 346.3,941.2 C349.8,944.7 352.3,947.5 355.5,949.3 C358.8,951.1 364.1,951.6 365.9,952.0"/>
<path d="M90.4,1027.3 C92.9,1027.4 101.0,1026.8 105.4,1027.8 C109.8,1028.7 113.0,1030.4 116.8,1033.0 C120.7,1035.6 124.5,1040.5 128.3,1043.4 C132.1,1046.2 136.3,1048.8 139.8,1050.2 C143.2,1051.7 145.9,1052.3 149.0,1052.1 C152.0,1051.9 154.7,1051.3 158.1,1049.1 C161.6,1046.9 165.8,1042.8 169.6,1038.8 C173.4,1034.8 177.7,1029.6 181.1,1025.0 C184.5,1020.4 186.8,1017.0 190.3,1011.2 C193.7,1005.5 197.5,997.8 201.8,990.6 C206.0,983.3 210.9,975.3 215.5,967.6 C220.1,960.0 224.7,951.6 229.3,944.7 C233.9,937.8 238.9,931.3 243.1,926.3 C247.3,921.3 251.4,917.7 254.5,914.8 C257.7,912.0 260.9,910.1 262.1,909.1"/>
<path d="M90.4,967.2 C92.2,968.4 97.5,971.4 100.8,974.5 C104.0,977.6 106.9,982.6 110.0,986.0 C113.0,989.3 116.1,992.9 119.1,994.7 C122.2,996.5 124.9,997.3 128.3,997.0 C131.8,996.7 136.3,993.9 139.8,992.9 C143.2,991.9 145.9,991.0 149.0,991.0 C152.0,991.0 154.7,991.2 158.1,992.9 C161.6,994.5 165.8,998.0 169.6,1000.9 C173.4,1003.8 177.7,1007.6 181.1,1010.1 C184.5,1012.6 187.2,1014.7 190.3,1015.8 C193.3,1017.0 196.4,1017.3 199.5,1017.0 C202.5,1016.6 205.6,1016.0 208.6,1013.5 C211.7,1011.0 214.8,1007.0 217.8,1002.0 C220.9,997.1 223.9,990.6 227.0,983.7 C230.1,976.8 233.1,968.0 236.2,960.7 C239.2,953.5 242.3,946.6 245.4,940.1 C248.4,933.6 251.5,925.9 254.5,921.7 C257.6,917.5 261.0,915.8 263.7,914.8 C266.4,913.9 268.3,914.5 270.6,916.0 C272.9,917.5 274.8,919.2 277.5,924.0 C280.2,928.8 283.6,937.0 286.7,944.7 C289.7,952.3 292.8,961.9 295.9,969.9 C298.9,978.0 302.0,986.0 305.0,992.9 C308.1,999.8 310.8,1005.9 314.2,1011.2 C317.7,1016.6 321.9,1021.7 325.7,1025.0 C329.5,1028.3 333.3,1029.8 337.2,1030.7 C341.0,1031.7 343.9,1031.2 348.6,1030.7 C353.4,1030.2 363.0,1028.3 365.9,1027.8"/>
<path d="M262.1,909.1 C264.3,909.5 270.7,909.3 275.2,911.4 C279.7,913.5 284.4,918.1 289.0,921.7 C293.6,925.4 298.1,929.4 302.7,933.2 C307.3,937.0 311.9,941.2 316.5,944.7 C321.1,948.1 325.7,951.0 330.3,953.9 C334.9,956.7 339.8,959.9 344.0,961.9 C348.3,963.9 351.9,964.9 355.5,965.8 C359.2,966.7 364.1,966.9 365.9,967.2"/>
<path d="M227.3,641.1 C227.5,641.3 228.3,641.7 228.8,642.0 C229.3,642.2 229.8,642.5 230.3,642.8 C230.8,643.0 231.2,643.3 231.7,643.6 C232.2,643.8 232.7,644.1 233.2,644.4 C233.7,644.6 234.2,644.9 234.7,645.2 C235.2,645.4 235.7,645.7 236.2,645.9 C236.7,646.2 237.2,646.5 237.7,646.7 C238.1,647.0 238.6,647.2 239.1,647.5 C239.6,647.7 240.1,648.0 240.6,648.2 C241.1,648.5 241.6,648.7 242.1,649.0 C242.6,649.2 243.1,649.4 243.6,649.7 C244.1,649.9 244.6,650.2 245.1,650.4 C245.5,650.6 246.0,650.8 246.5,651.1 C247.0,651.3 247.5,651.5 248.0,651.7 C248.5,651.9 249.0,652.1 249.5,652.3 C250.0,652.5 250.5,652.7 251.0,652.9 C251.5,653.1 252.0,653.3 252.4,653.5 C252.9,653.6 253.4,653.8 253.9,654.0 C254.4,654.1 254.9,654.3 255.4,654.4 C255.9,654.5 256.4,654.7 256.9,654.8 C257.4,654.9 257.9,655.0 258.4,655.1 C258.9,655.2 259.3,655.3 259.8,655.3 C260.3,655.4 260.8,655.4 261.3,655.5 C261.8,655.5 262.3,655.5 262.8,655.5 C263.3,655.5 263.9,655.5 264.4,655.5 C264.9,655.4 265.5,655.4 266.0,655.3 C266.5,655.2 267.1,655.2 267.6,655.1 C268.1,655.0 268.7,654.9 269.2,654.8 C269.8,654.6 270.3,654.5 270.8,654.4 C271.4,654.2 271.9,654.1 272.4,653.9 C273.0,653.8 273.5,653.6 274.0,653.4 C274.6,653.2 275.1,653.0 275.6,652.9 C276.2,652.7 276.7,652.5 277.2,652.3 C277.8,652.1 278.3,651.9 278.8,651.6 C279.4,651.4 279.9,651.2 280.4,651.0 C281.0,650.8 281.5,650.5 282.1,650.3 C282.6,650.1 283.1,649.8 283.7,649.6 C284.2,649.4 284.7,649.1 285.3,648.9 C285.8,648.7 286.3,648.4 286.9,648.2 C287.4,647.9 287.9,647.7 288.5,647.4 C289.0,647.2 289.5,646.9 290.1,646.7 C290.6,646.4 291.1,646.2 291.7,645.9 C292.2,645.7 292.7,645.4 293.3,645.2 C293.8,644.9 294.3,644.6 294.9,644.4 C295.4,644.1 296.0,643.9 296.5,643.6 C297.0,643.3 297.6,643.1 298.1,642.8 C298.6,642.5 299.2,642.3 299.7,642.0 C300.2,641.8 301.0,641.4 301.3,641.2"/>
<path d="M240.6,643.8 C240.7,643.9 241.2,644.0 241.5,644.1 C241.8,644.2 242.1,644.2 242.4,644.3 C242.7,644.4 243.0,644.5 243.3,644.6 C243.6,644.6 243.9,644.7 244.3,644.8 C244.6,644.9 244.9,645.0 245.2,645.0 C245.5,645.1 245.8,645.2 246.1,645.3 C246.4,645.4 246.7,645.4 247.0,645.5 C247.3,645.6 247.7,645.7 248.0,645.7 C248.3,645.8 248.6,645.9 248.9,645.9 C249.2,646.0 249.5,646.1 249.8,646.2 C250.1,646.2 250.4,646.3 250.7,646.4 C251.1,646.4 251.4,646.5 251.7,646.5 C252.0,646.6 252.3,646.7 252.6,646.7 C252.9,646.8 253.2,646.8 253.5,646.9 C253.8,647.0 254.1,647.0 254.5,647.1 C254.8,647.1 255.1,647.2 255.4,647.2 C255.7,647.2 256.0,647.3 256.3,647.3 C256.6,647.4 256.9,647.4 257.2,647.5 C257.5,647.5 257.9,647.5 258.2,647.6 C258.5,647.6 258.8,647.6 259.1,647.6 C259.4,647.7 259.7,647.7 260.0,647.7 C260.3,647.7 260.6,647.7 260.9,647.8 C261.3,647.8 261.6,647.8 261.9,647.8 C262.2,647.8 262.5,647.8 262.8,647.8 C263.1,647.8 263.5,647.8 263.9,647.8 C264.2,647.8 264.6,647.8 264.9,647.8 C265.3,647.7 265.6,647.7 266.0,647.7 C266.3,647.7 266.7,647.7 267.0,647.6 C267.4,647.6 267.7,647.6 268.1,647.5 C268.4,647.5 268.8,647.5 269.1,647.4 C269.5,647.4 269.8,647.4 270.2,647.3 C270.5,647.3 270.9,647.2 271.2,647.2 C271.6,647.1 271.9,647.1 272.3,647.0 C272.6,647.0 273.0,646.9 273.3,646.9 C273.7,646.8 274.0,646.8 274.4,646.7 C274.7,646.6 275.1,646.6 275.4,646.5 C275.8,646.5 276.1,646.4 276.5,646.3 C276.8,646.3 277.2,646.2 277.5,646.1 C277.9,646.1 278.2,646.0 278.6,645.9 C278.9,645.9 279.3,645.8 279.6,645.7 C280.0,645.6 280.3,645.6 280.7,645.5 C281.0,645.4 281.4,645.3 281.7,645.3 C282.1,645.2 282.4,645.1 282.8,645.0 C283.1,645.0 283.5,644.9 283.8,644.8 C284.2,644.7 284.5,644.7 284.9,644.6 C285.2,644.5 285.6,644.4 285.9,644.3 C286.3,644.3 286.6,644.2 287.0,644.1 C287.3,644.0 287.9,643.9 288.1,643.9"/>
</g>
<line x1="148.4" y1="652.0" x2="148.4" y2="1164.6" stroke="#eca048" stroke-width="3.2" stroke-dasharray="4 14.7"/>
<line x1="262.3" y1="652.0" x2="262.3" y2="1164.6" stroke="#f0a040" stroke-width="3.4" stroke-dasharray="4 14.7"/>
<line x1="92.3" y1="902.9" x2="363.8" y2="902.9" stroke="#ff8a1e" stroke-width="4.4" stroke-dasharray="10.5 8.5"/>
<rect x="90.3" y="644.0" width="275.5" height="514.6" fill="none" stroke="#000" stroke-width="4.5"/>
<line x1="80.3" y1="644.0" x2="90.3" y2="644.0" stroke="#000" stroke-width="4.5"/>
<line x1="80.3" y1="1158.6" x2="90.3" y2="1158.6" stroke="#000" stroke-width="4.5"/>
<line x1="76.8" y1="695.5" x2="90.3" y2="695.5" stroke="#000" stroke-width="4.5"/>
<text class="tk" transform="translate(74.1,701.3) scale(0.90,1)" text-anchor="end" style="font-size:22.0px">4</text>
<line x1="76.8" y1="798.4" x2="90.3" y2="798.4" stroke="#000" stroke-width="4.5"/>
<text class="tk" transform="translate(74.1,804.3) scale(0.90,1)" text-anchor="end" style="font-size:22.0px">2</text>
<line x1="76.8" y1="901.3" x2="90.3" y2="901.3" stroke="#000" stroke-width="4.5"/>
<text class="tk" transform="translate(74.1,907.2) scale(0.90,1)" text-anchor="end" style="font-size:22.0px">0</text>
<line x1="76.8" y1="1004.2" x2="90.3" y2="1004.2" stroke="#000" stroke-width="4.5"/>
<text class="tk" transform="translate(74.1,1010.1) scale(0.90,1)" text-anchor="end" style="font-size:22.0px">&#8211;2</text>
<line x1="76.8" y1="1107.1" x2="90.3" y2="1107.1" stroke="#000" stroke-width="4.5"/>
<text class="tk" transform="translate(74.1,1113.0) scale(0.90,1)" text-anchor="end" style="font-size:22.0px">&#8211;4</text>
<line x1="81.8" y1="746.9" x2="90.3" y2="746.9" stroke="#000" stroke-width="4.5"/>
<line x1="81.8" y1="849.8" x2="90.3" y2="849.8" stroke="#000" stroke-width="4.5"/>
<line x1="81.8" y1="952.8" x2="90.3" y2="952.8" stroke="#000" stroke-width="4.5"/>
<line x1="81.8" y1="1055.7" x2="90.3" y2="1055.7" stroke="#000" stroke-width="4.5"/>
<g clip-path="url(#c6)" fill="none" stroke="#1d2a7c" stroke-width="3.6" stroke-linecap="round" stroke-linejoin="round">
<path d="M416.3,698.2 C418.2,699.4 424.4,703.1 428.2,705.2 C432.0,707.2 435.8,709.5 439.1,710.6 C442.3,711.7 444.9,712.6 447.8,711.7 C450.7,710.8 453.5,707.9 456.4,705.2 C459.3,702.4 462.2,697.7 465.1,695.4 C468.0,693.0 470.6,691.9 473.8,691.0 C477.1,690.2 480.3,690.2 484.7,690.4 C489.0,690.6 495.2,691.3 499.9,692.1 C504.6,693.0 508.6,694.1 512.9,695.4 C517.3,696.7 521.6,698.6 526.0,699.7 C530.3,700.8 534.6,701.7 539.0,701.9 C543.3,702.1 547.7,700.5 552.0,700.8 C556.4,701.2 561.1,702.3 565.0,704.1 C569.0,705.9 572.3,709.0 575.9,711.7 C579.5,714.4 583.2,718.0 586.8,720.4 C590.4,722.7 594.2,724.7 597.6,725.8 C601.1,726.9 605.8,726.7 607.4,726.9"/>
<path d="M416.3,741.2 C418.2,741.0 424.4,741.0 428.2,739.9 C432.0,738.8 435.8,737.0 439.1,734.5 C442.3,732.0 444.9,727.6 447.8,724.7 C450.7,721.8 453.2,719.1 456.4,717.1 C459.7,715.1 463.3,713.7 467.3,712.8 C471.3,711.8 476.7,711.1 480.3,711.2 C484.0,711.4 485.8,712.0 489.0,713.9 C492.3,715.7 496.3,719.5 499.9,722.5 C503.5,725.6 507.5,730.0 510.7,732.3 C514.0,734.7 516.2,736.3 519.4,736.7 C522.7,737.0 526.7,735.4 530.3,734.5 C533.9,733.6 537.5,731.4 541.2,731.2 C544.8,731.0 548.4,732.1 552.0,733.4 C555.6,734.7 559.3,737.5 562.9,738.8 C566.5,740.2 570.1,741.8 573.7,741.7 C577.4,741.5 581.0,739.7 584.6,737.7 C588.2,735.8 591.7,732.0 595.5,730.1 C599.3,728.3 605.4,727.4 607.4,726.9"/>
<path d="M607.4,726.9 C609.4,726.2 614.8,725.1 619.4,722.5 C623.9,720.0 629.5,714.8 634.6,711.7 C639.6,708.6 644.7,706.1 649.8,704.1 C654.8,702.1 659.2,700.8 665.0,699.7 C670.8,698.6 678.7,697.9 684.5,697.6 C690.3,697.2 694.5,697.5 699.7,697.6 C705.0,697.7 713.3,698.1 716.0,698.2"/>
<path d="M607.4,726.9 C609.0,727.6 614.1,729.8 617.2,731.2 C620.3,732.7 623.3,734.8 625.9,735.6 C628.4,736.4 630.2,736.7 632.4,736.0 C634.6,735.3 636.4,733.8 638.9,731.2 C641.4,728.6 644.7,723.1 647.6,720.4 C650.5,717.7 653.4,716.0 656.3,714.9 C659.2,713.9 662.1,713.4 665.0,713.9 C667.9,714.3 670.4,715.8 673.7,717.8 C676.9,719.8 680.9,723.2 684.5,725.8 C688.1,728.4 691.8,731.1 695.4,733.4 C699.0,735.7 702.8,738.1 706.2,739.5 C709.7,740.9 714.4,741.3 716.0,741.7"/>
<path d="M416.3,800.3 C417.9,798.9 423.0,795.2 426.0,792.0 C429.1,788.9 431.5,783.9 434.7,781.2 C438.0,778.5 442.0,775.9 445.6,775.8 C449.2,775.6 452.8,778.1 456.4,780.1 C460.1,782.1 463.2,785.9 467.3,787.7 C471.4,789.5 477.0,791.0 481.0,791.0 C485.0,791.0 487.7,789.7 491.2,787.7 C494.7,785.7 498.4,781.9 502.1,779.0 C505.7,776.1 509.3,772.1 512.9,770.3 C516.5,768.5 520.2,768.0 523.8,768.2 C527.4,768.3 530.7,770.1 534.6,771.4 C538.6,772.7 543.3,774.9 547.7,775.8 C552.0,776.7 556.4,776.5 560.7,776.8 C565.0,777.2 570.1,776.5 573.7,777.9 C577.4,779.4 579.5,782.1 582.4,785.5 C585.3,789.0 588.2,794.6 591.1,798.6 C594.0,802.5 597.1,807.1 599.8,809.4 C602.5,811.8 604.9,813.0 607.4,812.7 C609.9,812.3 612.3,810.3 615.0,807.3 C617.7,804.2 620.8,797.7 623.7,794.2 C626.6,790.8 629.9,787.9 632.4,786.6 C634.9,785.4 636.4,785.7 638.9,786.6 C641.4,787.5 644.3,789.5 647.6,792.0 C650.8,794.6 654.8,799.3 658.5,801.8 C662.1,804.4 665.3,806.3 669.3,807.3 C673.3,808.2 678.0,807.8 682.3,807.3 C686.7,806.7 689.8,805.3 695.4,804.0 C701.0,802.7 712.6,800.4 716.0,799.7"/>
<path d="M416.5,950.0 C419.0,949.5 426.3,947.7 431.6,947.2 C436.8,946.6 442.4,946.2 447.8,946.5 C453.2,946.7 458.6,948.1 464.0,948.8 C469.4,949.5 475.6,950.9 480.3,950.6 C484.9,950.4 487.6,949.6 491.9,947.2 C496.1,944.7 501.1,939.8 505.8,936.0 C510.4,932.2 515.1,928.1 519.7,924.4 C524.3,920.8 529.0,916.8 533.6,914.0 C538.3,911.2 542.9,909.1 547.5,907.7 C552.2,906.4 556.8,906.0 561.5,905.9 C566.1,905.8 570.7,906.5 575.4,907.0 C580.0,907.6 585.4,908.6 589.3,909.4 C593.2,910.1 595.6,910.9 598.6,911.7 C601.6,912.4 604.1,914.2 607.2,914.0 C610.2,913.8 613.1,911.6 617.1,910.5 C621.1,909.5 626.4,908.3 631.0,907.7 C635.7,907.2 640.7,906.8 645.0,907.0 C649.2,907.3 652.7,907.6 656.6,909.4 C660.4,911.1 664.3,914.2 668.2,917.5 C672.0,920.8 675.9,925.2 679.8,929.1 C683.6,932.9 687.5,937.7 691.4,940.7 C695.2,943.7 698.9,945.6 703.0,947.2 C707.0,948.7 713.6,949.5 715.7,950.0"/>
<path d="M416.5,1025.3 C419.0,1025.5 427.1,1025.1 431.6,1026.0 C436.0,1027.0 439.3,1028.7 443.2,1031.1 C447.0,1033.5 450.9,1037.5 454.8,1040.4 C458.6,1043.3 462.1,1046.7 466.4,1048.5 C470.6,1050.4 476.4,1051.4 480.3,1051.6 C484.1,1051.7 486.1,1051.6 489.5,1049.7 C493.0,1047.8 497.3,1044.3 501.1,1040.4 C505.0,1036.6 509.3,1030.9 512.7,1026.5 C516.2,1022.1 518.9,1018.4 522.0,1013.7 C525.1,1009.1 527.8,1004.7 531.3,998.7 C534.8,992.7 539.0,984.4 542.9,977.8 C546.8,971.2 550.6,965.0 554.5,959.2 C558.4,953.4 561.8,948.0 566.1,943.0 C570.4,938.0 575.4,932.9 580.0,929.1 C584.7,925.2 589.4,921.9 593.9,919.8 C598.5,917.7 605.0,916.9 607.2,916.3"/>
<path d="M416.5,974.3 C418.2,975.3 423.6,977.6 426.9,980.1 C430.2,982.6 433.1,987.0 436.2,989.4 C439.3,991.8 442.0,993.7 445.5,994.5 C449.0,995.3 453.2,994.6 457.1,994.0 C460.9,993.5 464.8,992.0 468.7,991.2 C472.5,990.5 476.8,989.3 480.3,989.4 C483.8,989.5 486.1,990.2 489.5,991.7 C493.0,993.3 497.3,996.2 501.1,998.7 C505.0,1001.2 508.9,1004.3 512.7,1006.8 C516.6,1009.3 520.5,1012.4 524.3,1013.7 C528.2,1015.1 532.5,1015.3 535.9,1014.9 C539.4,1014.5 542.1,1013.7 545.2,1011.4 C548.3,1009.1 551.4,1005.4 554.5,1001.0 C557.6,996.5 560.7,990.2 563.8,984.7 C566.9,979.3 570.0,973.9 573.1,968.5 C576.2,963.1 579.2,957.7 582.3,952.3 C585.4,946.9 588.5,941.1 591.6,936.0 C594.7,931.0 598.3,925.4 600.9,922.1 C603.5,918.8 606.1,917.3 607.2,916.3"/>
<path d="M607.2,916.3 C609.2,916.9 615.1,917.9 619.5,919.8 C623.8,921.7 628.7,924.8 633.4,927.9 C638.0,931.0 642.6,934.7 647.3,938.4 C651.9,942.0 656.6,946.5 661.2,950.0 C665.8,953.4 670.5,956.3 675.1,959.2 C679.8,962.1 684.4,965.2 689.0,967.3 C693.7,969.5 698.5,971.0 703.0,972.0 C707.4,973.0 713.6,973.0 715.7,973.1"/>
<path d="M607.2,916.3 C608.4,917.7 612.0,920.0 614.8,924.4 C617.6,928.9 621.0,936.0 624.1,943.0 C627.2,950.0 630.3,958.8 633.4,966.2 C636.5,973.5 639.6,980.9 642.6,987.1 C645.7,993.3 648.4,998.3 651.9,1003.3 C655.4,1008.3 659.7,1013.5 663.5,1017.2 C667.4,1020.9 671.3,1023.5 675.1,1025.3 C679.0,1027.2 682.5,1028.1 686.7,1028.4 C691.0,1028.6 695.8,1027.5 700.6,1027.0 C705.5,1026.5 713.2,1025.6 715.7,1025.3"/>
<path d="M564.3,640.6 C564.6,640.7 565.5,641.1 566.1,641.4 C566.7,641.7 567.3,641.9 567.9,642.2 C568.5,642.5 569.1,642.8 569.7,643.0 C570.3,643.3 570.9,643.6 571.5,643.9 C572.2,644.1 572.8,644.4 573.4,644.7 C574.0,644.9 574.6,645.2 575.2,645.5 C575.8,645.7 576.4,646.0 577.0,646.3 C577.6,646.5 578.2,646.8 578.8,647.1 C579.4,647.3 580.0,647.6 580.6,647.8 C581.2,648.1 581.8,648.3 582.4,648.6 C583.0,648.9 583.6,649.1 584.2,649.4 C584.8,649.6 585.4,649.9 586.0,650.1 C586.7,650.3 587.3,650.6 587.9,650.8 C588.5,651.1 589.1,651.3 589.7,651.5 C590.3,651.8 590.9,652.0 591.5,652.2 C592.1,652.4 592.7,652.6 593.3,652.8 C593.9,653.0 594.5,653.3 595.1,653.4 C595.7,653.6 596.3,653.8 596.9,654.0 C597.5,654.2 598.1,654.4 598.7,654.5 C599.3,654.7 599.9,654.8 600.5,655.0 C601.2,655.1 601.8,655.2 602.4,655.3 C603.0,655.4 603.6,655.5 604.2,655.6 C604.8,655.7 605.4,655.7 606.0,655.7 C606.6,655.8 607.2,655.8 607.8,655.8 C608.4,655.8 609.0,655.8 609.6,655.7 C610.2,655.7 610.8,655.7 611.3,655.6 C611.9,655.5 612.5,655.4 613.1,655.3 C613.7,655.2 614.3,655.1 614.9,655.0 C615.5,654.8 616.1,654.7 616.7,654.5 C617.2,654.4 617.8,654.2 618.4,654.0 C619.0,653.8 619.6,653.7 620.2,653.5 C620.8,653.3 621.4,653.1 622.0,652.9 C622.6,652.7 623.1,652.4 623.7,652.2 C624.3,652.0 624.9,651.8 625.5,651.5 C626.1,651.3 626.7,651.1 627.3,650.8 C627.9,650.6 628.5,650.4 629.0,650.1 C629.6,649.9 630.2,649.6 630.8,649.4 C631.4,649.1 632.0,648.9 632.6,648.6 C633.2,648.4 633.8,648.1 634.4,647.8 C635.0,647.6 635.5,647.3 636.1,647.1 C636.7,646.8 637.3,646.5 637.9,646.3 C638.5,646.0 639.1,645.7 639.7,645.5 C640.3,645.2 640.9,644.9 641.4,644.7 C642.0,644.4 642.6,644.1 643.2,643.8 C643.8,643.6 644.4,643.3 645.0,643.0 C645.6,642.8 646.2,642.5 646.8,642.2 C647.3,641.9 647.9,641.7 648.5,641.4 C649.1,641.1 650.0,640.7 650.3,640.5"/>
<path d="M579.3,643.3 C579.5,643.4 580.1,643.5 580.5,643.6 C580.9,643.7 581.3,643.7 581.7,643.8 C582.1,643.9 582.5,644.0 582.9,644.1 C583.3,644.1 583.7,644.2 584.0,644.3 C584.4,644.4 584.8,644.5 585.2,644.5 C585.6,644.6 586.0,644.7 586.4,644.8 C586.8,644.9 587.2,644.9 587.6,645.0 C588.0,645.1 588.4,645.2 588.8,645.2 C589.2,645.3 589.6,645.4 590.0,645.5 C590.4,645.5 590.8,645.6 591.2,645.7 C591.6,645.8 592.0,645.8 592.4,645.9 C592.8,646.0 593.2,646.0 593.5,646.1 C593.9,646.2 594.3,646.2 594.7,646.3 C595.1,646.4 595.5,646.4 595.9,646.5 C596.3,646.5 596.7,646.6 597.1,646.7 C597.5,646.7 597.9,646.8 598.3,646.8 C598.7,646.9 599.1,646.9 599.5,647.0 C599.9,647.0 600.3,647.1 600.7,647.1 C601.1,647.1 601.5,647.2 601.9,647.2 C602.3,647.3 602.7,647.3 603.0,647.3 C603.4,647.3 603.8,647.4 604.2,647.4 C604.6,647.4 605.0,647.4 605.4,647.5 C605.8,647.5 606.2,647.5 606.6,647.5 C607.0,647.5 607.4,647.5 607.8,647.5 C608.2,647.5 608.6,647.5 609.0,647.5 C609.3,647.5 609.7,647.5 610.1,647.5 C610.5,647.4 610.9,647.4 611.3,647.4 C611.7,647.4 612.0,647.3 612.4,647.3 C612.8,647.3 613.2,647.3 613.6,647.2 C614.0,647.2 614.4,647.1 614.7,647.1 C615.1,647.1 615.5,647.0 615.9,647.0 C616.3,646.9 616.7,646.9 617.0,646.8 C617.4,646.8 617.8,646.7 618.2,646.7 C618.6,646.6 619.0,646.5 619.4,646.5 C619.7,646.4 620.1,646.4 620.5,646.3 C620.9,646.2 621.3,646.2 621.7,646.1 C622.1,646.0 622.4,646.0 622.8,645.9 C623.2,645.8 623.6,645.8 624.0,645.7 C624.4,645.6 624.8,645.5 625.1,645.5 C625.5,645.4 625.9,645.3 626.3,645.2 C626.7,645.2 627.1,645.1 627.5,645.0 C627.8,644.9 628.2,644.9 628.6,644.8 C629.0,644.7 629.4,644.6 629.8,644.5 C630.2,644.5 630.5,644.4 630.9,644.3 C631.3,644.2 631.7,644.1 632.1,644.1 C632.5,644.0 632.9,643.9 633.2,643.8 C633.6,643.7 634.0,643.7 634.4,643.6 C634.8,643.5 635.4,643.4 635.5,643.3"/>
<path d="M584.3,641.2 C584.5,641.2 585.0,641.3 585.3,641.3 C585.6,641.4 585.9,641.5 586.3,641.5 C586.6,641.6 586.9,641.6 587.2,641.7 C587.6,641.8 587.9,641.8 588.2,641.9 C588.5,641.9 588.9,642.0 589.2,642.0 C589.5,642.1 589.8,642.1 590.2,642.2 C590.5,642.3 590.8,642.3 591.2,642.4 C591.5,642.4 591.8,642.5 592.1,642.5 C592.5,642.6 592.8,642.6 593.1,642.7 C593.4,642.7 593.8,642.8 594.1,642.8 C594.4,642.9 594.7,642.9 595.1,643.0 C595.4,643.0 595.7,643.0 596.0,643.1 C596.4,643.1 596.7,643.2 597.0,643.2 C597.4,643.3 597.7,643.3 598.0,643.3 C598.3,643.4 598.7,643.4 599.0,643.5 C599.3,643.5 599.6,643.5 600.0,643.6 C600.3,643.6 600.6,643.6 600.9,643.7 C601.3,643.7 601.6,643.7 601.9,643.7 C602.3,643.8 602.6,643.8 602.9,643.8 C603.2,643.8 603.6,643.9 603.9,643.9 C604.2,643.9 604.5,643.9 604.9,643.9 C605.2,643.9 605.5,644.0 605.8,644.0 C606.2,644.0 606.5,644.0 606.8,644.0 C607.1,644.0 607.5,644.0 607.8,644.0 C608.1,644.0 608.4,644.0 608.7,644.0 C609.0,644.0 609.3,644.0 609.6,644.0 C609.9,644.0 610.2,644.0 610.5,643.9 C610.8,643.9 611.1,643.9 611.4,643.9 C611.7,643.9 612.0,643.9 612.3,643.8 C612.6,643.8 612.9,643.8 613.2,643.8 C613.5,643.7 613.8,643.7 614.1,643.7 C614.4,643.6 614.7,643.6 615.0,643.6 C615.3,643.5 615.6,643.5 615.9,643.5 C616.2,643.4 616.5,643.4 616.8,643.4 C617.1,643.3 617.4,643.3 617.7,643.2 C618.0,643.2 618.3,643.2 618.5,643.1 C618.8,643.1 619.1,643.0 619.4,643.0 C619.7,642.9 620.0,642.9 620.3,642.8 C620.6,642.8 620.9,642.7 621.2,642.7 C621.5,642.6 621.8,642.6 622.1,642.5 C622.4,642.5 622.7,642.4 623.0,642.4 C623.3,642.3 623.6,642.3 623.9,642.2 C624.2,642.1 624.5,642.1 624.8,642.0 C625.1,642.0 625.4,641.9 625.7,641.9 C626.0,641.8 626.3,641.7 626.6,641.7 C626.9,641.6 627.2,641.6 627.5,641.5 C627.8,641.5 628.1,641.4 628.4,641.3 C628.7,641.3 629.2,641.2 629.3,641.1"/>
</g>
<line x1="480.8" y1="652.0" x2="480.8" y2="1168.0" stroke="#eca048" stroke-width="3.2" stroke-dasharray="4 14.7"/>
<line x1="607.3" y1="652.0" x2="607.3" y2="1168.0" stroke="#f0a040" stroke-width="3.4" stroke-dasharray="4 14.7"/>
<line x1="417.3" y1="902.4" x2="715.7" y2="902.4" stroke="#ff8a1e" stroke-width="4.4" stroke-dasharray="10.5 8.5"/>
<rect x="415.3" y="644.0" width="302.4" height="518.0" fill="none" stroke="#000" stroke-width="4.5"/>
<line x1="405.3" y1="644.0" x2="415.3" y2="644.0" stroke="#000" stroke-width="4.5"/>
<line x1="405.3" y1="1162.0" x2="415.3" y2="1162.0" stroke="#000" stroke-width="4.5"/>
<line x1="401.8" y1="695.8" x2="415.3" y2="695.8" stroke="#000" stroke-width="4.5"/>
<text class="tk" transform="translate(396.7,701.7) scale(0.90,1)" text-anchor="end" style="font-size:22.0px">4</text>
<line x1="401.8" y1="799.4" x2="415.3" y2="799.4" stroke="#000" stroke-width="4.5"/>
<text class="tk" transform="translate(396.7,805.3) scale(0.90,1)" text-anchor="end" style="font-size:22.0px">2</text>
<line x1="401.8" y1="903.0" x2="415.3" y2="903.0" stroke="#000" stroke-width="4.5"/>
<text class="tk" transform="translate(396.7,908.9) scale(0.90,1)" text-anchor="end" style="font-size:22.0px">0</text>
<line x1="401.8" y1="1006.6" x2="415.3" y2="1006.6" stroke="#000" stroke-width="4.5"/>
<text class="tk" transform="translate(396.7,1012.5) scale(0.90,1)" text-anchor="end" style="font-size:22.0px">&#8211;2</text>
<line x1="401.8" y1="1110.2" x2="415.3" y2="1110.2" stroke="#000" stroke-width="4.5"/>
<text class="tk" transform="translate(396.7,1116.1) scale(0.90,1)" text-anchor="end" style="font-size:22.0px">&#8211;4</text>
<line x1="406.8" y1="747.6" x2="415.3" y2="747.6" stroke="#000" stroke-width="4.5"/>
<line x1="406.8" y1="851.2" x2="415.3" y2="851.2" stroke="#000" stroke-width="4.5"/>
<line x1="406.8" y1="954.8" x2="415.3" y2="954.8" stroke="#000" stroke-width="4.5"/>
<line x1="406.8" y1="1058.4" x2="415.3" y2="1058.4" stroke="#000" stroke-width="4.5"/>
<g clip-path="url(#c7)" fill="none" stroke="#1d2a7c" stroke-width="3.6" stroke-linecap="round" stroke-linejoin="round">
<path d="M773.3,703.2 C775.3,703.8 781.6,705.6 785.5,706.9 C789.4,708.3 792.9,710.5 796.6,711.4 C800.2,712.2 803.9,713.3 807.6,712.0 C811.3,710.7 815.0,706.2 818.7,703.6 C822.4,701.0 826.3,698.0 829.8,696.5 C833.2,695.0 835.2,694.5 839.3,694.8 C843.3,695.0 849.0,696.6 854.1,698.1 C859.2,699.5 864.4,701.8 869.6,703.6 C874.8,705.5 880.3,708.1 885.1,709.1 C889.9,710.2 893.9,710.1 898.4,709.8 C902.8,709.5 907.2,707.1 911.6,707.6 C916.1,708.0 920.5,709.8 924.9,712.5 C929.3,715.1 933.8,720.2 938.2,723.5 C942.6,726.8 947.8,730.5 951.5,732.4 C955.2,734.3 957.7,734.5 960.3,735.0 C963.0,735.6 966.2,735.6 967.4,735.7"/>
<path d="M773.3,739.0 C775.7,739.0 783.5,739.3 787.7,739.0 C791.9,738.7 795.5,739.1 798.8,737.2 C802.1,735.4 804.3,731.3 807.6,728.0 C810.9,724.6 815.0,719.5 818.7,716.9 C822.4,714.3 826.3,713.4 829.8,712.5 C833.2,711.5 836.0,710.6 839.3,711.4 C842.6,712.1 846.1,714.1 849.7,716.9 C853.2,719.7 857.0,724.8 860.7,728.0 C864.4,731.1 868.1,734.1 871.8,735.7 C875.5,737.2 878.8,736.9 882.9,737.2 C886.9,737.6 891.7,736.9 896.1,737.9 C900.6,738.9 905.0,741.5 909.4,743.4 C913.9,745.4 918.6,748.5 922.7,749.6 C926.8,750.8 930.1,751.2 933.8,750.5 C937.5,749.9 941.1,747.6 944.8,745.7 C948.5,743.7 952.1,740.7 955.9,739.0 C959.7,737.4 965.5,736.2 967.4,735.7"/>
<path d="M967.4,735.7 C969.5,734.8 975.9,732.4 980.2,730.2 C984.6,728.0 988.7,725.2 993.5,722.4 C998.3,719.7 1003.9,716.1 1009.0,713.6 C1014.2,711.0 1019.0,708.6 1024.5,706.9 C1030.0,705.3 1036.3,704.3 1042.2,703.6 C1048.1,702.9 1053.8,702.7 1059.9,702.5 C1066.0,702.3 1075.6,702.5 1078.7,702.5"/>
<path d="M967.4,735.7 C969.2,736.2 974.8,737.7 978.0,739.0 C981.3,740.3 984.3,742.5 986.9,743.4 C989.5,744.4 991.3,744.9 993.5,744.5 C995.7,744.2 997.6,743.6 1000.2,741.2 C1002.7,738.8 1005.7,733.3 1009.0,730.2 C1012.3,727.0 1016.4,724.1 1020.1,722.4 C1023.8,720.8 1027.5,720.1 1031.1,720.2 C1034.8,720.3 1038.5,721.6 1042.2,723.1 C1045.9,724.6 1049.6,727.1 1053.3,729.1 C1057.0,731.0 1060.1,732.9 1064.3,734.6 C1068.6,736.3 1076.3,738.3 1078.7,739.0"/>
<path d="M773.3,801.4 C775.0,800.2 779.8,797.7 783.3,794.3 C786.8,791.0 790.7,784.3 794.3,781.1 C798.0,777.8 801.7,775.4 805.4,774.9 C809.1,774.3 812.8,776.3 816.5,777.7 C820.2,779.1 823.7,781.9 827.5,783.3 C831.3,784.6 835.6,785.9 839.3,785.9 C843.0,785.9 845.7,785.2 849.7,783.3 C853.6,781.4 858.5,776.8 863.0,774.4 C867.4,772.0 872.2,769.6 876.2,768.9 C880.3,768.2 883.2,768.7 887.3,770.0 C891.4,771.3 896.1,774.8 900.6,776.6 C905.0,778.5 909.4,779.6 913.9,781.1 C918.3,782.5 923.4,783.6 927.1,785.5 C930.8,787.3 933.0,788.8 936.0,792.1 C938.9,795.5 941.9,801.4 944.8,805.4 C947.8,809.5 951.1,813.6 953.7,816.5 C956.3,819.4 958.0,821.4 960.3,822.7 C962.6,824.0 964.8,824.9 967.4,824.2 C970.0,823.6 972.9,821.5 975.8,818.7 C978.7,815.9 981.7,811.1 984.7,807.6 C987.6,804.1 990.6,799.7 993.5,797.7 C996.5,795.6 999.4,795.3 1002.4,795.5 C1005.3,795.6 1007.9,797.1 1011.2,798.8 C1014.5,800.4 1018.6,803.6 1022.3,805.4 C1026.0,807.3 1029.3,809.1 1033.4,809.8 C1037.4,810.6 1041.8,810.5 1046.6,809.8 C1051.4,809.2 1056.8,807.1 1062.1,805.9 C1067.5,804.6 1076.0,802.7 1078.7,802.1"/>
<path d="M773.4,947.4 C775.9,947.2 783.2,946.2 788.4,945.8 C793.5,945.4 799.1,944.9 804.4,945.1 C809.8,945.4 814.8,946.6 820.5,947.4 C826.2,948.2 833.9,950.0 838.9,950.0 C843.8,950.0 846.1,949.5 850.3,947.4 C854.5,945.4 859.5,941.1 864.1,937.8 C868.7,934.5 873.3,930.9 877.9,927.5 C882.5,924.0 887.0,920.2 891.6,917.1 C896.2,914.1 900.8,911.2 905.4,909.1 C910.0,907.0 914.2,905.5 919.2,904.5 C924.2,903.6 930.3,903.2 935.2,903.4 C940.2,903.5 944.8,904.5 949.0,905.2 C953.2,905.9 957.4,907.0 960.5,907.5 C963.6,908.0 964.7,908.6 967.4,908.4 C970.1,908.2 972.7,906.9 976.6,906.1 C980.4,905.3 985.4,904.1 990.3,903.8 C995.3,903.6 1001.4,903.4 1006.4,904.5 C1011.4,905.6 1015.6,907.4 1020.2,910.2 C1024.8,913.1 1029.3,917.7 1033.9,921.7 C1038.5,925.7 1043.1,930.6 1047.7,934.3 C1052.3,938.1 1056.3,942.1 1061.5,944.2 C1066.6,946.3 1075.8,946.5 1078.7,947.0"/>
<path d="M773.4,1021.6 C775.9,1021.7 784.0,1021.3 788.4,1022.2 C792.8,1023.2 796.0,1024.9 799.8,1027.3 C803.7,1029.7 807.1,1033.4 811.3,1036.5 C815.5,1039.5 820.5,1043.6 825.1,1045.7 C829.7,1047.8 835.0,1048.8 838.9,1049.1 C842.7,1049.4 844.6,1049.0 848.0,1047.5 C851.5,1046.0 855.7,1043.1 859.5,1039.9 C863.3,1036.7 867.2,1032.8 871.0,1028.4 C874.8,1024.0 878.6,1019.1 882.5,1013.5 C886.3,1008.0 889.7,1001.7 893.9,995.2 C898.1,988.7 903.1,981.0 907.7,974.5 C912.3,968.0 916.9,961.9 921.5,956.1 C926.1,950.4 930.7,944.3 935.2,940.1 C939.8,935.9 944.8,933.2 949.0,930.9 C953.2,928.6 957.4,927.2 960.5,926.3 C963.6,925.5 966.2,925.9 967.4,925.9"/>
<path d="M773.4,979.1 C775.2,979.9 780.5,981.9 783.8,983.7 C787.0,985.5 789.5,988.5 793.0,990.1 C796.4,991.7 800.6,993.1 804.4,993.3 C808.3,993.6 812.1,992.5 815.9,991.7 C819.7,991.0 823.6,989.4 827.4,988.7 C831.2,988.1 835.4,987.6 838.9,987.8 C842.3,988.0 844.6,988.5 848.0,990.1 C851.5,991.7 855.7,995.1 859.5,997.5 C863.3,999.8 867.2,1002.1 871.0,1004.3 C874.8,1006.6 879.0,1009.4 882.5,1010.8 C885.9,1012.1 888.2,1012.3 891.6,1012.4 C895.1,1012.5 899.3,1013.0 903.1,1011.2 C906.9,1009.5 910.8,1006.3 914.6,1002.0 C918.4,997.8 922.2,992.1 926.1,986.0 C929.9,979.9 933.7,971.8 937.5,965.3 C941.4,958.8 945.6,952.3 949.0,947.0 C952.5,941.6 955.1,936.7 958.2,933.2 C961.3,929.7 965.8,927.1 967.4,925.9"/>
<path d="M967.4,925.9 C969.3,926.1 975.0,926.2 978.9,927.5 C982.7,928.7 986.1,930.7 990.3,933.2 C994.5,935.7 999.5,938.9 1004.1,942.4 C1008.7,945.8 1013.3,950.2 1017.9,953.9 C1022.5,957.5 1027.0,961.1 1031.6,964.2 C1036.2,967.2 1040.8,970.1 1045.4,972.2 C1050.0,974.3 1053.6,975.7 1059.2,976.8 C1064.7,978.0 1075.4,978.7 1078.7,979.1"/>
<path d="M967.4,925.9 C968.5,926.7 971.6,927.0 974.3,930.9 C976.9,934.8 980.4,942.8 983.4,949.3 C986.5,955.8 989.6,963.4 992.6,969.9 C995.7,976.4 998.7,982.5 1001.8,988.3 C1004.9,994.0 1007.5,999.8 1011.0,1004.3 C1014.4,1008.9 1018.6,1012.8 1022.5,1015.8 C1026.3,1018.9 1030.1,1021.3 1033.9,1022.7 C1037.8,1024.2 1040.8,1024.5 1045.4,1024.5 C1050.0,1024.5 1055.9,1023.3 1061.5,1022.7 C1067.0,1022.1 1075.8,1021.2 1078.7,1020.9"/>
<path d="M914.3,635.4 C914.7,635.5 915.8,636.1 916.5,636.4 C917.3,636.8 918.0,637.2 918.8,637.5 C919.5,637.9 920.2,638.2 921.0,638.6 C921.7,638.9 922.5,639.3 923.2,639.7 C924.0,640.0 924.7,640.4 925.4,640.7 C926.2,641.1 926.9,641.4 927.7,641.8 C928.4,642.1 929.2,642.5 929.9,642.8 C930.6,643.2 931.4,643.5 932.1,643.9 C932.9,644.2 933.6,644.5 934.4,644.9 C935.1,645.2 935.8,645.6 936.6,645.9 C937.3,646.2 938.1,646.6 938.8,646.9 C939.6,647.3 940.3,647.6 941.0,647.9 C941.8,648.2 942.5,648.6 943.3,648.9 C944.0,649.2 944.8,649.5 945.5,649.8 C946.3,650.2 947.0,650.5 947.7,650.8 C948.5,651.1 949.2,651.4 950.0,651.7 C950.7,652.0 951.5,652.2 952.2,652.5 C952.9,652.8 953.7,653.1 954.4,653.3 C955.2,653.6 955.9,653.8 956.7,654.1 C957.4,654.3 958.1,654.5 958.9,654.7 C959.6,654.9 960.4,655.1 961.1,655.2 C961.9,655.4 962.6,655.5 963.3,655.7 C964.1,655.8 964.8,655.9 965.6,655.9 C966.3,656.0 967.1,656.0 967.8,656.0 C968.5,656.0 969.3,656.0 970.0,655.9 C970.7,655.9 971.4,655.8 972.2,655.7 C972.9,655.5 973.6,655.4 974.4,655.3 C975.1,655.1 975.8,654.9 976.5,654.7 C977.3,654.5 978.0,654.3 978.7,654.1 C979.5,653.8 980.2,653.6 980.9,653.3 C981.7,653.1 982.4,652.8 983.1,652.5 C983.8,652.3 984.6,652.0 985.3,651.7 C986.0,651.4 986.8,651.1 987.5,650.8 C988.2,650.5 988.9,650.2 989.7,649.9 C990.4,649.6 991.1,649.2 991.9,648.9 C992.6,648.6 993.3,648.3 994.0,647.9 C994.8,647.6 995.5,647.3 996.2,646.9 C997.0,646.6 997.7,646.3 998.4,645.9 C999.2,645.6 999.9,645.2 1000.6,644.9 C1001.3,644.6 1002.1,644.2 1002.8,643.9 C1003.5,643.5 1004.3,643.2 1005.0,642.8 C1005.7,642.5 1006.4,642.1 1007.2,641.8 C1007.9,641.4 1008.6,641.1 1009.4,640.7 C1010.1,640.4 1010.8,640.0 1011.5,639.6 C1012.3,639.3 1013.0,638.9 1013.7,638.6 C1014.5,638.2 1015.2,637.9 1015.9,637.5 C1016.7,637.1 1017.4,636.8 1018.1,636.4 C1018.8,636.1 1019.9,635.5 1020.3,635.3"/>
<path d="M942.3,638.9 C942.5,638.9 943.0,639.1 943.4,639.2 C943.7,639.3 944.1,639.5 944.4,639.6 C944.8,639.7 945.1,639.8 945.5,639.9 C945.8,640.0 946.2,640.1 946.5,640.2 C946.9,640.3 947.3,640.5 947.6,640.6 C948.0,640.7 948.3,640.8 948.7,640.9 C949.0,641.0 949.4,641.1 949.7,641.2 C950.1,641.3 950.4,641.4 950.8,641.5 C951.2,641.6 951.5,641.7 951.9,641.8 C952.2,641.9 952.6,642.0 952.9,642.1 C953.3,642.2 953.6,642.3 954.0,642.4 C954.3,642.5 954.7,642.6 955.0,642.7 C955.4,642.8 955.8,642.8 956.1,642.9 C956.5,643.0 956.8,643.1 957.2,643.2 C957.5,643.2 957.9,643.3 958.2,643.4 C958.6,643.5 958.9,643.5 959.3,643.6 C959.7,643.7 960.0,643.7 960.4,643.8 C960.7,643.9 961.1,643.9 961.4,644.0 C961.8,644.0 962.1,644.1 962.5,644.1 C962.8,644.2 963.2,644.2 963.5,644.3 C963.9,644.3 964.3,644.3 964.6,644.4 C965.0,644.4 965.3,644.4 965.7,644.4 C966.0,644.5 966.4,644.5 966.7,644.5 C967.1,644.5 967.5,644.5 967.8,644.5 C968.1,644.5 968.5,644.5 968.8,644.5 C969.2,644.5 969.5,644.5 969.8,644.4 C970.2,644.4 970.5,644.4 970.9,644.4 C971.2,644.3 971.5,644.3 971.9,644.3 C972.2,644.2 972.6,644.2 972.9,644.1 C973.2,644.1 973.6,644.0 973.9,644.0 C974.3,643.9 974.6,643.9 974.9,643.8 C975.3,643.8 975.6,643.7 976.0,643.6 C976.3,643.6 976.6,643.5 977.0,643.4 C977.3,643.3 977.7,643.3 978.0,643.2 C978.3,643.1 978.7,643.0 979.0,642.9 C979.4,642.9 979.7,642.8 980.0,642.7 C980.4,642.6 980.7,642.5 981.1,642.4 C981.4,642.3 981.8,642.2 982.1,642.1 C982.4,642.0 982.8,641.9 983.1,641.8 C983.5,641.7 983.8,641.6 984.1,641.5 C984.5,641.4 984.8,641.3 985.2,641.2 C985.5,641.1 985.8,641.0 986.2,640.9 C986.5,640.8 986.9,640.7 987.2,640.6 C987.5,640.5 987.9,640.3 988.2,640.2 C988.6,640.1 988.9,640.0 989.2,639.9 C989.6,639.8 989.9,639.7 990.3,639.6 C990.6,639.4 990.9,639.3 991.3,639.2 C991.6,639.1 992.1,638.9 992.3,638.9"/>
</g>
<line x1="839.3" y1="647.0" x2="839.3" y2="1167.0" stroke="#eca048" stroke-width="3.2" stroke-dasharray="4 14.7"/>
<line x1="967.4" y1="647.0" x2="967.4" y2="1167.0" stroke="#f0a040" stroke-width="3.4" stroke-dasharray="4 14.7"/>
<line x1="775.5" y1="899.7" x2="1077.5" y2="899.7" stroke="#ff8a1e" stroke-width="4.4" stroke-dasharray="10.5 8.5"/>
<rect x="773.5" y="639.0" width="306.0" height="522.0" fill="none" stroke="#000" stroke-width="4.5"/>
<line x1="763.5" y1="639.0" x2="773.5" y2="639.0" stroke="#000" stroke-width="4.5"/>
<line x1="763.5" y1="1161.0" x2="773.5" y2="1161.0" stroke="#000" stroke-width="4.5"/>
<line x1="760.0" y1="691.2" x2="773.5" y2="691.2" stroke="#000" stroke-width="4.5"/>
<text class="tk" transform="translate(754.8,697.1) scale(0.90,1)" text-anchor="end" style="font-size:22.0px">4</text>
<line x1="760.0" y1="795.6" x2="773.5" y2="795.6" stroke="#000" stroke-width="4.5"/>
<text class="tk" transform="translate(754.8,801.5) scale(0.90,1)" text-anchor="end" style="font-size:22.0px">2</text>
<line x1="760.0" y1="900.0" x2="773.5" y2="900.0" stroke="#000" stroke-width="4.5"/>
<text class="tk" transform="translate(754.8,905.9) scale(0.90,1)" text-anchor="end" style="font-size:22.0px">0</text>
<line x1="760.0" y1="1004.4" x2="773.5" y2="1004.4" stroke="#000" stroke-width="4.5"/>
<text class="tk" transform="translate(754.8,1010.3) scale(0.90,1)" text-anchor="end" style="font-size:22.0px">&#8211;2</text>
<line x1="760.0" y1="1108.8" x2="773.5" y2="1108.8" stroke="#000" stroke-width="4.5"/>
<text class="tk" transform="translate(754.8,1114.7) scale(0.90,1)" text-anchor="end" style="font-size:22.0px">&#8211;4</text>
<line x1="765.0" y1="743.4" x2="773.5" y2="743.4" stroke="#000" stroke-width="4.5"/>
<line x1="765.0" y1="847.8" x2="773.5" y2="847.8" stroke="#000" stroke-width="4.5"/>
<line x1="765.0" y1="952.2" x2="773.5" y2="952.2" stroke="#000" stroke-width="4.5"/>
<line x1="765.0" y1="1056.6" x2="773.5" y2="1056.6" stroke="#000" stroke-width="4.5"/>
<g clip-path="url(#c8)" fill="none" stroke="#1d2a7c" stroke-width="3.6" stroke-linecap="round" stroke-linejoin="round">
<path d="M1132.4,709.9 C1134.4,710.6 1140.6,712.5 1144.4,713.6 C1148.2,714.7 1151.6,716.1 1155.2,716.5 C1158.9,716.8 1162.5,716.7 1166.1,715.8 C1169.7,714.9 1173.3,712.7 1177.0,711.0 C1180.6,709.3 1184.1,706.7 1187.8,705.6 C1191.5,704.5 1195.0,703.8 1199.3,704.5 C1203.7,705.2 1209.3,707.9 1213.9,709.9 C1218.5,711.9 1222.6,714.6 1226.9,716.5 C1231.3,718.3 1235.6,720.3 1240.0,720.8 C1244.3,721.3 1248.6,719.8 1253.0,719.3 C1257.3,718.7 1262.0,717.3 1266.0,717.5 C1270.0,717.8 1273.3,718.6 1276.9,720.8 C1280.5,723.0 1284.1,727.5 1287.7,730.6 C1291.4,733.7 1295.0,736.9 1298.6,739.3 C1302.2,741.6 1306.3,743.4 1309.5,744.7 C1312.6,746.0 1316.3,746.5 1317.7,746.9"/>
<path d="M1132.4,741.0 C1134.8,741.1 1142.0,741.8 1146.5,741.9 C1151.1,741.9 1156.0,743.3 1159.6,741.4 C1163.2,739.6 1165.4,733.8 1168.3,730.6 C1171.2,727.3 1173.7,724.1 1177.0,721.9 C1180.2,719.6 1184.2,717.9 1187.8,717.1 C1191.4,716.3 1195.1,716.1 1198.7,717.1 C1202.3,718.1 1205.9,720.5 1209.5,723.0 C1213.2,725.4 1216.8,729.1 1220.4,731.7 C1224.0,734.2 1227.3,736.4 1231.3,738.2 C1235.2,740.0 1240.0,740.7 1244.3,742.5 C1248.6,744.3 1253.0,746.7 1257.3,749.0 C1261.7,751.4 1266.4,754.7 1270.4,756.6 C1274.3,758.6 1277.6,760.2 1281.2,760.5 C1284.8,760.9 1288.1,760.2 1292.1,758.8 C1296.1,757.4 1300.8,754.3 1305.1,752.3 C1309.4,750.3 1315.6,747.8 1317.7,746.9"/>
<path d="M1317.7,746.9 C1320.0,746.0 1326.8,744.0 1331.2,741.4 C1335.6,738.9 1339.5,734.9 1344.2,731.7 C1348.9,728.4 1354.0,724.8 1359.4,721.9 C1364.8,719.0 1371.0,716.1 1376.8,714.3 C1382.6,712.5 1388.4,711.9 1394.2,711.0 C1400.0,710.2 1405.6,709.6 1411.5,709.3 C1417.5,709.0 1426.9,709.3 1430.0,709.3"/>
<path d="M1317.7,746.9 C1319.6,747.0 1325.7,747.0 1329.0,748.0 C1332.3,748.9 1334.8,751.1 1337.7,752.3 C1340.6,753.5 1343.5,754.9 1346.4,754.9 C1349.3,754.9 1351.8,754.9 1355.1,752.3 C1358.3,749.7 1362.3,742.7 1365.9,739.3 C1369.6,735.8 1373.2,733.4 1376.8,731.7 C1380.4,729.9 1383.7,728.8 1387.7,728.8 C1391.6,728.8 1396.3,730.4 1400.7,731.7 C1405.0,733.0 1408.8,735.2 1413.7,736.7 C1418.6,738.1 1427.3,739.7 1430.0,740.3"/>
<path d="M1132.4,808.3 C1134.4,806.2 1140.6,800.4 1144.4,795.7 C1148.2,791.1 1151.6,784.0 1155.2,780.5 C1158.9,777.1 1162.5,775.5 1166.1,775.1 C1169.7,774.7 1173.3,777.2 1177.0,778.4 C1180.6,779.6 1184.1,781.5 1187.8,782.3 C1191.5,783.1 1195.3,783.8 1199.3,783.1 C1203.3,782.5 1207.8,780.2 1211.7,778.4 C1215.6,776.5 1219.0,773.2 1222.6,771.8 C1226.2,770.5 1229.8,769.7 1233.4,770.1 C1237.1,770.5 1240.3,771.9 1244.3,774.0 C1248.3,776.1 1253.0,780.2 1257.3,782.7 C1261.7,785.2 1266.4,786.7 1270.4,788.8 C1274.3,790.9 1277.6,792.3 1281.2,795.3 C1284.8,798.3 1288.5,802.2 1292.1,806.6 C1295.7,811.0 1299.7,817.5 1302.9,821.8 C1306.2,826.1 1309.2,830.3 1311.6,832.7 C1314.1,835.0 1315.5,835.6 1317.7,835.9 C1319.9,836.2 1322.1,836.4 1324.7,834.4 C1327.3,832.4 1330.1,827.9 1333.4,824.0 C1336.6,820.1 1340.6,814.1 1344.2,810.9 C1347.8,807.8 1351.5,805.6 1355.1,804.9 C1358.7,804.1 1362.3,805.4 1365.9,806.6 C1369.6,807.8 1373.2,810.8 1376.8,812.0 C1380.4,813.3 1383.3,814.2 1387.7,814.2 C1392.0,814.2 1398.2,812.8 1402.9,812.0 C1407.6,811.3 1411.4,810.6 1415.9,809.9 C1420.4,809.1 1427.7,808.0 1430.0,807.7"/>
<path d="M1132.7,945.0 C1135.2,944.7 1142.9,943.8 1147.7,943.6 C1152.4,943.3 1156.5,943.2 1161.4,943.6 C1166.4,944.0 1171.3,945.1 1177.5,945.9 C1183.7,946.7 1193.5,948.5 1198.8,948.4 C1204.2,948.3 1205.5,947.6 1209.6,945.4 C1213.7,943.2 1218.8,938.5 1223.4,935.1 C1228.0,931.6 1232.6,928.2 1237.2,924.8 C1241.8,921.3 1246.3,917.5 1250.9,914.4 C1255.5,911.4 1260.1,908.4 1264.7,906.4 C1269.3,904.4 1273.9,903.3 1278.5,902.5 C1283.1,901.7 1287.7,901.5 1292.2,901.8 C1296.8,902.1 1301.8,903.3 1306.0,904.1 C1310.2,904.9 1313.7,906.4 1317.5,906.4 C1321.3,906.4 1324.8,904.9 1329.0,904.1 C1333.2,903.3 1337.8,902.1 1342.7,901.8 C1347.7,901.5 1354.2,901.5 1358.8,902.5 C1363.4,903.4 1366.5,905.2 1370.3,907.5 C1374.1,909.9 1377.5,913.3 1381.8,916.7 C1386.0,920.2 1390.9,924.6 1395.5,928.2 C1400.1,931.8 1404.7,935.8 1409.3,938.5 C1413.9,941.2 1419.4,943.1 1423.1,944.3 C1426.7,945.4 1429.8,945.2 1431.1,945.4"/>
<path d="M1132.7,1015.9 C1135.2,1016.1 1143.3,1016.2 1147.7,1017.2 C1152.1,1018.3 1155.3,1019.9 1159.1,1022.3 C1163.0,1024.7 1166.4,1028.2 1170.6,1031.5 C1174.8,1034.7 1179.7,1039.5 1184.4,1041.8 C1189.1,1044.1 1194.6,1045.2 1198.8,1045.2 C1203.0,1045.2 1205.9,1043.9 1209.6,1041.8 C1213.3,1039.7 1217.3,1036.3 1221.1,1032.6 C1224.9,1029.0 1228.7,1024.4 1232.6,1020.0 C1236.4,1015.6 1239.8,1012.0 1244.0,1006.2 C1248.3,1000.5 1253.2,992.1 1257.8,985.6 C1262.4,979.1 1267.0,973.0 1271.6,967.2 C1276.2,961.5 1280.8,955.7 1285.4,951.1 C1290.0,946.6 1294.9,942.7 1299.1,939.7 C1303.3,936.7 1307.5,934.5 1310.6,933.2 C1313.7,932.0 1316.3,932.5 1317.5,932.3"/>
<path d="M1132.7,981.0 C1134.5,981.7 1139.4,984.0 1143.1,985.6 C1146.7,987.1 1150.7,989.3 1154.5,990.2 C1158.4,991.0 1161.8,991.0 1166.0,990.6 C1170.2,990.2 1175.2,988.9 1179.8,987.9 C1184.4,986.8 1189.7,984.9 1193.6,984.4 C1197.4,984.0 1199.3,984.0 1202.7,985.1 C1206.2,986.3 1210.4,989.0 1214.2,991.3 C1218.0,993.6 1221.9,996.6 1225.7,998.9 C1229.5,1001.2 1233.3,1003.6 1237.2,1005.1 C1241.0,1006.6 1244.8,1007.7 1248.6,1008.1 C1252.5,1008.4 1256.7,1008.4 1260.1,1007.4 C1263.6,1006.3 1266.2,1004.5 1269.3,1001.6 C1272.4,998.8 1275.0,994.8 1278.5,990.2 C1281.9,985.6 1286.1,979.8 1290.0,974.1 C1293.8,968.4 1298.0,961.1 1301.4,955.7 C1304.9,950.4 1307.9,945.9 1310.6,942.0 C1313.3,938.1 1316.3,933.9 1317.5,932.3"/>
<path d="M1317.5,932.3 C1319.4,932.5 1325.1,932.2 1329.0,933.2 C1332.8,934.3 1336.2,936.3 1340.4,938.5 C1344.7,940.7 1349.6,943.7 1354.2,946.6 C1358.8,949.4 1363.4,952.7 1368.0,955.7 C1372.6,958.8 1377.2,962.0 1381.8,964.9 C1386.3,967.8 1390.9,970.7 1395.5,973.0 C1400.1,975.2 1404.7,976.9 1409.3,978.2 C1413.9,979.6 1419.4,980.4 1423.1,981.0 C1426.7,981.5 1429.8,981.4 1431.1,981.4"/>
<path d="M1317.5,932.3 C1319.0,933.2 1323.6,933.9 1326.7,937.4 C1329.7,940.9 1332.8,947.7 1335.9,953.4 C1338.9,959.2 1342.0,966.1 1345.0,971.8 C1348.1,977.5 1350.8,982.9 1354.2,987.9 C1357.7,992.8 1361.9,997.6 1365.7,1001.6 C1369.5,1005.7 1373.3,1009.3 1377.2,1012.0 C1381.0,1014.6 1384.8,1016.6 1388.6,1017.7 C1392.5,1018.9 1395.5,1018.9 1400.1,1018.9 C1404.7,1018.9 1411.0,1018.1 1416.2,1017.7 C1421.3,1017.3 1428.6,1016.7 1431.1,1016.6"/>
<path d="M1262.3,634.2 C1262.7,634.5 1263.8,635.2 1264.6,635.6 C1265.4,636.1 1266.2,636.6 1266.9,637.1 C1267.7,637.5 1268.5,638.0 1269.2,638.5 C1270.0,638.9 1270.8,639.4 1271.6,639.9 C1272.3,640.3 1273.1,640.8 1273.9,641.3 C1274.6,641.7 1275.4,642.2 1276.2,642.7 C1276.9,643.1 1277.7,643.6 1278.5,644.0 C1279.3,644.5 1280.0,645.0 1280.8,645.4 C1281.6,645.9 1282.3,646.3 1283.1,646.8 C1283.9,647.2 1284.7,647.7 1285.4,648.1 C1286.2,648.5 1287.0,649.0 1287.7,649.4 C1288.5,649.9 1289.3,650.3 1290.0,650.7 C1290.8,651.1 1291.6,651.6 1292.4,652.0 C1293.1,652.4 1293.9,652.8 1294.7,653.2 C1295.4,653.6 1296.2,654.0 1297.0,654.4 C1297.8,654.8 1298.5,655.2 1299.3,655.6 C1300.1,655.9 1300.8,656.3 1301.6,656.7 C1302.4,657.0 1303.2,657.4 1303.9,657.7 C1304.7,658.0 1305.5,658.3 1306.2,658.6 C1307.0,658.9 1307.8,659.2 1308.5,659.4 C1309.3,659.7 1310.1,659.9 1310.9,660.1 C1311.6,660.3 1312.4,660.4 1313.2,660.6 C1313.9,660.7 1314.7,660.8 1315.5,660.9 C1316.3,661.0 1317.0,661.0 1317.8,661.0 C1318.6,661.0 1319.6,661.0 1320.4,660.9 C1321.3,660.8 1322.2,660.7 1323.1,660.5 C1324.0,660.4 1324.9,660.2 1325.7,660.0 C1326.6,659.8 1327.5,659.6 1328.4,659.3 C1329.3,659.0 1330.1,658.7 1331.0,658.4 C1331.9,658.1 1332.8,657.8 1333.7,657.5 C1334.6,657.2 1335.4,656.8 1336.3,656.5 C1337.2,656.1 1338.1,655.7 1339.0,655.3 C1339.8,655.0 1340.7,654.6 1341.6,654.2 C1342.5,653.8 1343.4,653.4 1344.3,653.0 C1345.1,652.6 1346.0,652.2 1346.9,651.8 C1347.8,651.3 1348.7,650.9 1349.5,650.5 C1350.4,650.1 1351.3,649.7 1352.2,649.2 C1353.1,648.8 1354.0,648.4 1354.8,647.9 C1355.7,647.5 1356.6,647.1 1357.5,646.6 C1358.4,646.2 1359.3,645.7 1360.1,645.3 C1361.0,644.9 1361.9,644.4 1362.8,644.0 C1363.7,643.5 1364.5,643.1 1365.4,642.6 C1366.3,642.2 1367.2,641.7 1368.1,641.3 C1369.0,640.8 1369.8,640.4 1370.7,639.9 C1371.6,639.5 1372.5,639.0 1373.4,638.6 C1374.2,638.1 1375.1,637.6 1376.0,637.2 C1376.9,636.7 1377.8,636.3 1378.7,635.8 C1379.5,635.4 1380.9,634.7 1381.3,634.4"/>
<path d="M1291.3,638.8 C1291.5,638.9 1292.0,639.1 1292.4,639.3 C1292.8,639.4 1293.1,639.6 1293.5,639.7 C1293.9,639.9 1294.2,640.0 1294.6,640.2 C1295.0,640.3 1295.3,640.5 1295.7,640.6 C1296.1,640.8 1296.5,640.9 1296.8,641.1 C1297.2,641.2 1297.6,641.4 1297.9,641.5 C1298.3,641.7 1298.7,641.8 1299.0,642.0 C1299.4,642.1 1299.8,642.2 1300.1,642.4 C1300.5,642.5 1300.9,642.7 1301.2,642.8 C1301.6,642.9 1302.0,643.1 1302.3,643.2 C1302.7,643.3 1303.1,643.5 1303.4,643.6 C1303.8,643.7 1304.2,643.8 1304.5,644.0 C1304.9,644.1 1305.3,644.2 1305.7,644.3 C1306.0,644.4 1306.4,644.5 1306.8,644.7 C1307.1,644.8 1307.5,644.9 1307.9,645.0 C1308.2,645.1 1308.6,645.2 1309.0,645.3 C1309.3,645.4 1309.7,645.5 1310.1,645.5 C1310.4,645.6 1310.8,645.7 1311.2,645.8 C1311.5,645.9 1311.9,645.9 1312.3,646.0 C1312.6,646.1 1313.0,646.1 1313.4,646.2 C1313.8,646.2 1314.1,646.3 1314.5,646.3 C1314.9,646.4 1315.2,646.4 1315.6,646.4 C1316.0,646.4 1316.3,646.5 1316.7,646.5 C1317.1,646.5 1317.4,646.5 1317.8,646.5 C1318.2,646.5 1318.8,646.5 1319.2,646.5 C1319.7,646.5 1320.2,646.4 1320.7,646.4 C1321.2,646.4 1321.6,646.3 1322.1,646.3 C1322.6,646.2 1323.1,646.2 1323.5,646.1 C1324.0,646.1 1324.5,646.0 1325.0,645.9 C1325.5,645.9 1325.9,645.8 1326.4,645.7 C1326.9,645.6 1327.4,645.5 1327.9,645.4 C1328.3,645.4 1328.8,645.3 1329.3,645.2 C1329.8,645.1 1330.3,645.0 1330.7,644.9 C1331.2,644.8 1331.7,644.6 1332.2,644.5 C1332.7,644.4 1333.1,644.3 1333.6,644.2 C1334.1,644.1 1334.6,644.0 1335.0,643.8 C1335.5,643.7 1336.0,643.6 1336.5,643.5 C1337.0,643.3 1337.4,643.2 1337.9,643.1 C1338.4,643.0 1338.9,642.8 1339.4,642.7 C1339.8,642.6 1340.3,642.4 1340.8,642.3 C1341.3,642.2 1341.8,642.0 1342.2,641.9 C1342.7,641.8 1343.2,641.6 1343.7,641.5 C1344.2,641.4 1344.6,641.2 1345.1,641.1 C1345.6,640.9 1346.1,640.8 1346.6,640.7 C1347.0,640.5 1347.5,640.4 1348.0,640.2 C1348.5,640.1 1348.9,640.0 1349.4,639.8 C1349.9,639.7 1350.4,639.5 1350.9,639.4 C1351.3,639.2 1352.1,639.0 1352.3,639.0"/>
<path d="M1305.5,638.8 C1305.6,638.8 1305.9,639.0 1306.1,639.0 C1306.2,639.1 1306.4,639.2 1306.6,639.3 C1306.7,639.4 1306.9,639.5 1307.1,639.6 C1307.3,639.6 1307.4,639.7 1307.6,639.8 C1307.8,639.9 1307.9,640.0 1308.1,640.0 C1308.3,640.1 1308.4,640.2 1308.6,640.3 C1308.8,640.4 1309.0,640.4 1309.1,640.5 C1309.3,640.6 1309.5,640.6 1309.6,640.7 C1309.8,640.8 1310.0,640.9 1310.1,640.9 C1310.3,641.0 1310.5,641.0 1310.7,641.1 C1310.8,641.2 1311.0,641.2 1311.2,641.3 C1311.3,641.4 1311.5,641.4 1311.7,641.5 C1311.8,641.5 1312.0,641.6 1312.2,641.6 C1312.4,641.7 1312.5,641.7 1312.7,641.8 C1312.9,641.8 1313.0,641.9 1313.2,641.9 C1313.4,641.9 1313.5,642.0 1313.7,642.0 C1313.9,642.1 1314.1,642.1 1314.2,642.1 C1314.4,642.2 1314.6,642.2 1314.7,642.2 C1314.9,642.3 1315.1,642.3 1315.2,642.3 C1315.4,642.3 1315.6,642.4 1315.8,642.4 C1315.9,642.4 1316.1,642.4 1316.3,642.4 C1316.4,642.4 1316.6,642.5 1316.8,642.5 C1316.9,642.5 1317.1,642.5 1317.3,642.5 C1317.5,642.5 1317.6,642.5 1317.8,642.5 C1318.0,642.5 1318.3,642.5 1318.6,642.5 C1318.9,642.5 1319.1,642.5 1319.4,642.5 C1319.6,642.5 1319.9,642.4 1320.2,642.4 C1320.4,642.4 1320.7,642.4 1321.0,642.4 C1321.2,642.3 1321.5,642.3 1321.8,642.3 C1322.0,642.3 1322.3,642.2 1322.5,642.2 C1322.8,642.2 1323.1,642.1 1323.3,642.1 C1323.6,642.1 1323.9,642.0 1324.1,642.0 C1324.4,641.9 1324.7,641.9 1324.9,641.9 C1325.2,641.8 1325.5,641.8 1325.7,641.7 C1326.0,641.7 1326.2,641.6 1326.5,641.6 C1326.8,641.5 1327.0,641.5 1327.3,641.4 C1327.6,641.3 1327.8,641.3 1328.1,641.2 C1328.4,641.2 1328.6,641.1 1328.9,641.1 C1329.1,641.0 1329.4,640.9 1329.7,640.9 C1329.9,640.8 1330.2,640.7 1330.5,640.7 C1330.7,640.6 1331.0,640.5 1331.3,640.5 C1331.5,640.4 1331.8,640.3 1332.0,640.3 C1332.3,640.2 1332.6,640.1 1332.8,640.0 C1333.1,640.0 1333.4,639.9 1333.6,639.8 C1333.9,639.7 1334.2,639.7 1334.4,639.6 C1334.7,639.5 1335.0,639.4 1335.2,639.4 C1335.5,639.3 1335.7,639.2 1336.0,639.1 C1336.3,639.1 1336.7,638.9 1336.8,638.9"/>
</g>
<line x1="1199.0" y1="647.5" x2="1199.0" y2="1160.5" stroke="#eca048" stroke-width="3.2" stroke-dasharray="4 14.7"/>
<line x1="1317.6" y1="647.5" x2="1317.6" y2="1160.5" stroke="#f0a040" stroke-width="3.4" stroke-dasharray="4 14.7"/>
<line x1="1133.0" y1="896.8" x2="1430.0" y2="896.8" stroke="#ff8a1e" stroke-width="4.4" stroke-dasharray="10.5 8.5"/>
<rect x="1131.0" y="639.5" width="301.0" height="515.0" fill="none" stroke="#000" stroke-width="4.5"/>
<line x1="1121.0" y1="639.5" x2="1131.0" y2="639.5" stroke="#000" stroke-width="4.5"/>
<line x1="1121.0" y1="1154.5" x2="1131.0" y2="1154.5" stroke="#000" stroke-width="4.5"/>
<line x1="1117.5" y1="691.0" x2="1131.0" y2="691.0" stroke="#000" stroke-width="4.5"/>
<text class="tk" transform="translate(1113.8,696.9) scale(0.90,1)" text-anchor="end" style="font-size:22.0px">4</text>
<line x1="1117.5" y1="794.0" x2="1131.0" y2="794.0" stroke="#000" stroke-width="4.5"/>
<text class="tk" transform="translate(1113.8,799.9) scale(0.90,1)" text-anchor="end" style="font-size:22.0px">2</text>
<line x1="1117.5" y1="897.0" x2="1131.0" y2="897.0" stroke="#000" stroke-width="4.5"/>
<text class="tk" transform="translate(1113.8,902.9) scale(0.90,1)" text-anchor="end" style="font-size:22.0px">0</text>
<line x1="1117.5" y1="1000.0" x2="1131.0" y2="1000.0" stroke="#000" stroke-width="4.5"/>
<text class="tk" transform="translate(1113.8,1005.9) scale(0.90,1)" text-anchor="end" style="font-size:22.0px">&#8211;2</text>
<line x1="1117.5" y1="1103.0" x2="1131.0" y2="1103.0" stroke="#000" stroke-width="4.5"/>
<text class="tk" transform="translate(1113.8,1108.9) scale(0.90,1)" text-anchor="end" style="font-size:22.0px">&#8211;4</text>
<line x1="1122.5" y1="742.5" x2="1131.0" y2="742.5" stroke="#000" stroke-width="4.5"/>
<line x1="1122.5" y1="845.5" x2="1131.0" y2="845.5" stroke="#000" stroke-width="4.5"/>
<line x1="1122.5" y1="948.5" x2="1131.0" y2="948.5" stroke="#000" stroke-width="4.5"/>
<line x1="1122.5" y1="1051.5" x2="1131.0" y2="1051.5" stroke="#000" stroke-width="4.5"/>
<line x1="146.2" y1="32.8" x2="208.0" y2="32.8" stroke="#1d2a7c" stroke-width="4.6"/>
<text class="lg" x="215.6" y="41.0" textLength="80.9" lengthAdjust="spacingAndGlyphs" style="font-size:29.0px">(&#8722;6%)</text>
<line x1="482.7" y1="34.3" x2="550.7" y2="34.3" stroke="#1d2a7c" stroke-width="4.6"/>
<text class="lg" x="560.5" y="41.2" textLength="89.1" lengthAdjust="spacingAndGlyphs" style="font-size:30.7px">(&#8722;4%)</text>
<line x1="852.3" y1="37.7" x2="907.7" y2="37.7" stroke="#1d2a7c" stroke-width="4.6"/>
<text class="lg" x="913.8" y="43.6" textLength="72.4" lengthAdjust="spacingAndGlyphs" style="font-size:24.5px;font-weight:bold">(&#8722;2%)</text>
<line x1="1206.0" y1="34.6" x2="1274.6" y2="34.6" stroke="#1d2a7c" stroke-width="4.6"/>
<text class="lg" x="1282.4" y="42.8" textLength="70.1" lengthAdjust="spacingAndGlyphs" style="font-size:31.0px">(0%)</text>
<line x1="158.0" y1="622.5" x2="219.8" y2="622.5" stroke="#1d2a7c" stroke-width="4.6"/>
<text class="lg" x="227.9" y="630.1" textLength="63.0" lengthAdjust="spacingAndGlyphs" style="font-size:29.7px">(0%)</text>
<line x1="469.3" y1="623.0" x2="538.0" y2="623.0" stroke="#1d2a7c" stroke-width="4.6"/>
<text class="lg" x="546.5" y="629.9" textLength="94.3" lengthAdjust="spacingAndGlyphs" style="font-size:29.9px">(+ 2%)</text>
<line x1="839.3" y1="618.0" x2="908.0" y2="618.0" stroke="#1d2a7c" stroke-width="4.6"/>
<text class="lg" x="917.2" y="625.5" textLength="95.7" lengthAdjust="spacingAndGlyphs" style="font-size:30.7px">(+ 4%)</text>
<line x1="1188.0" y1="616.7" x2="1256.7" y2="616.7" stroke="#1d2a7c" stroke-width="4.6"/>
<text class="lg" x="1265.2" y="624.8" textLength="94.4" lengthAdjust="spacingAndGlyphs" style="font-size:30.6px">(+ 6%)</text>
<text class="sf" transform="translate(52,304.0) rotate(-90)" text-anchor="middle" textLength="209" lengthAdjust="spacing" style="font-size:41px">Energy (eV)</text>
<text class="sf" transform="translate(52,887.0) rotate(-90)" text-anchor="middle" textLength="205" lengthAdjust="spacing" style="font-size:41px">Energy (eV)</text>
<text class="sf" x="1438.0" y="333.0" style="font-size:54px">E</text>
<text class="sf" x="1472.5" y="344.0" style="font-size:30px">f</text>
<text class="sf" x="1434.0" y="918.0" style="font-size:54px">E</text>
<text class="sf" x="1470.5" y="929.0" style="font-size:30px">f</text>
<text class="sf" x="102.7" y="1195.0" text-anchor="middle" style="font-size:33.0px">M</text>
<text class="sf" x="148.2" y="1197.5" text-anchor="middle" style="font-size:33.0px">K</text>
<text class="sf" x="262.5" y="1194.5" text-anchor="middle" style="font-size:36.5px">&#915;</text>
<text class="sf" x="353.3" y="1194.0" text-anchor="middle" style="font-size:33.0px">M</text>
<text class="sf" x="429.0" y="1200.0" text-anchor="middle" style="font-size:33.0px">M</text>
<text class="sf" x="483.3" y="1200.0" text-anchor="middle" style="font-size:33.0px">K</text>
<text class="sf" x="606.5" y="1199.0" text-anchor="middle" style="font-size:36.5px">&#915;</text>
<text class="sf" x="706.5" y="1200.0" text-anchor="middle" style="font-size:33.0px">M</text>
<text class="sf" x="782.5" y="1197.0" text-anchor="middle" style="font-size:33.0px">M</text>
<text class="sf" x="841.0" y="1197.0" text-anchor="middle" style="font-size:33.0px">K</text>
<text class="sf" x="967.5" y="1200.0" text-anchor="middle" style="font-size:36.5px">&#915;</text>
<text class="sf" x="1064.5" y="1196.0" text-anchor="middle" style="font-size:33.0px">M</text>
<text class="sf" x="1143.5" y="1194.0" text-anchor="middle" style="font-size:33.0px">M</text>
<text class="sf" x="1199.0" y="1194.0" text-anchor="middle" style="font-size:33.0px">K</text>
<text class="sf" x="1313.5" y="1193.0" text-anchor="middle" style="font-size:36.5px">&#915;</text>
<text class="sf" x="1417.5" y="1188.0" text-anchor="middle" style="font-size:33.0px">M</text>
</svg></body></html>
